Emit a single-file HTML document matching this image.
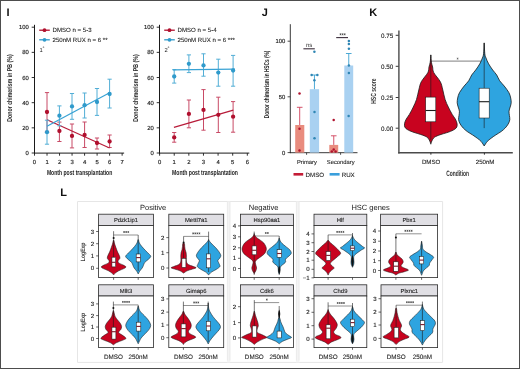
<!DOCTYPE html>
<html><head><meta charset="utf-8"><style>
html,body{margin:0;padding:0;background:#fff;}
body{width:520px;height:369px;overflow:hidden;font-family:"Liberation Sans",sans-serif;}
svg{display:block;will-change:transform;text-rendering:geometricPrecision;}
</style></head><body>
<svg width="520" height="369" viewBox="0 0 520 369" font-family="Liberation Sans, sans-serif"><text x="6.60" y="15.80" font-size="11" text-anchor="start" fill="#111" font-weight="bold" >I</text>
<text x="261.80" y="15.80" font-size="11" text-anchor="start" fill="#111" font-weight="bold" >J</text>
<text x="369.20" y="15.90" font-size="11" text-anchor="start" fill="#111" font-weight="bold" >K</text>
<text x="60.20" y="195.80" font-size="11" text-anchor="start" fill="#111" font-weight="bold" >L</text>
<line x1="34.50" y1="24.80" x2="34.50" y2="153.60" stroke="#1a1a1a" stroke-width="1.0" />
<line x1="34.00" y1="153.10" x2="124.14" y2="153.10" stroke="#1a1a1a" stroke-width="1.0" />
<line x1="31.70" y1="153.00" x2="34.50" y2="153.00" stroke="#1a1a1a" stroke-width="0.9" />
<text x="28.90" y="155.10" font-size="5.9" text-anchor="end" fill="#222"  stroke="#222" stroke-width="0.15">0</text>
<line x1="31.70" y1="127.84" x2="34.50" y2="127.84" stroke="#1a1a1a" stroke-width="0.9" />
<text x="28.90" y="129.94" font-size="5.9" text-anchor="end" fill="#222"  stroke="#222" stroke-width="0.15">20</text>
<line x1="31.70" y1="102.68" x2="34.50" y2="102.68" stroke="#1a1a1a" stroke-width="0.9" />
<text x="28.90" y="104.78" font-size="5.9" text-anchor="end" fill="#222"  stroke="#222" stroke-width="0.15">40</text>
<line x1="31.70" y1="77.52" x2="34.50" y2="77.52" stroke="#1a1a1a" stroke-width="0.9" />
<text x="28.90" y="79.62" font-size="5.9" text-anchor="end" fill="#222"  stroke="#222" stroke-width="0.15">60</text>
<line x1="31.70" y1="52.36" x2="34.50" y2="52.36" stroke="#1a1a1a" stroke-width="0.9" />
<text x="28.90" y="54.46" font-size="5.9" text-anchor="end" fill="#222"  stroke="#222" stroke-width="0.15">80</text>
<line x1="31.70" y1="27.20" x2="34.50" y2="27.20" stroke="#1a1a1a" stroke-width="0.9" />
<text x="28.90" y="29.30" font-size="5.9" text-anchor="end" fill="#222"  stroke="#222" stroke-width="0.15">100</text>
<line x1="34.50" y1="153.10" x2="34.50" y2="155.70" stroke="#1a1a1a" stroke-width="0.9" />
<text x="34.50" y="164.10" font-size="5.9" text-anchor="middle" fill="#222"  stroke="#222" stroke-width="0.15">0</text>
<line x1="47.02" y1="153.10" x2="47.02" y2="155.70" stroke="#1a1a1a" stroke-width="0.9" />
<text x="47.02" y="164.10" font-size="5.9" text-anchor="middle" fill="#222"  stroke="#222" stroke-width="0.15">1</text>
<line x1="59.54" y1="153.10" x2="59.54" y2="155.70" stroke="#1a1a1a" stroke-width="0.9" />
<text x="59.54" y="164.10" font-size="5.9" text-anchor="middle" fill="#222"  stroke="#222" stroke-width="0.15">2</text>
<line x1="72.06" y1="153.10" x2="72.06" y2="155.70" stroke="#1a1a1a" stroke-width="0.9" />
<text x="72.06" y="164.10" font-size="5.9" text-anchor="middle" fill="#222"  stroke="#222" stroke-width="0.15">3</text>
<line x1="84.58" y1="153.10" x2="84.58" y2="155.70" stroke="#1a1a1a" stroke-width="0.9" />
<text x="84.58" y="164.10" font-size="5.9" text-anchor="middle" fill="#222"  stroke="#222" stroke-width="0.15">4</text>
<line x1="97.10" y1="153.10" x2="97.10" y2="155.70" stroke="#1a1a1a" stroke-width="0.9" />
<text x="97.10" y="164.10" font-size="5.9" text-anchor="middle" fill="#222"  stroke="#222" stroke-width="0.15">5</text>
<line x1="109.62" y1="153.10" x2="109.62" y2="155.70" stroke="#1a1a1a" stroke-width="0.9" />
<text x="109.62" y="164.10" font-size="5.9" text-anchor="middle" fill="#222"  stroke="#222" stroke-width="0.15">6</text>
<line x1="122.14" y1="153.10" x2="122.14" y2="155.70" stroke="#1a1a1a" stroke-width="0.9" />
<text x="122.14" y="164.10" font-size="5.9" text-anchor="middle" fill="#222"  stroke="#222" stroke-width="0.15">7</text>
<text x="12.00" y="88.00" font-size="7.0" text-anchor="middle" fill="#222" font-weight="bold" textLength="67.4" lengthAdjust="spacingAndGlyphs" transform="rotate(-90 12.00 88.00)" >Donor chimerism in PB (%)</text>
<text x="79.60" y="175.10" font-size="7.4" text-anchor="middle" fill="#222" font-weight="bold" textLength="65.4" lengthAdjust="spacingAndGlyphs" >Month post transplantation</text>
<line x1="39.20" y1="30.20" x2="49.80" y2="30.20" stroke="#b0102e" stroke-width="1.3" />
<circle cx="44.50" cy="30.20" r="1.9" fill="#b0102e"/>
<text x="52.50" y="32.40" font-size="6.1" text-anchor="start" fill="#222"  stroke="#222" stroke-width="0.08">DMSO n = 5-3</text>
<line x1="39.20" y1="39.80" x2="49.80" y2="39.80" stroke="#2f9acb" stroke-width="1.3" />
<circle cx="44.50" cy="39.80" r="1.9" fill="#2f9acb"/>
<text x="52.50" y="42.00" font-size="6.1" text-anchor="start" fill="#222"  stroke="#222" stroke-width="0.08">250nM RUX n = 6 **</text>
<text x="39.60" y="51.60" font-size="5.8" text-anchor="start" fill="#222" >1</text>
<text x="42.60" y="49.60" font-size="5.0" text-anchor="start" fill="#333" >°</text>
<line x1="47.00" y1="92.60" x2="47.00" y2="131.40" stroke="#c84a66" stroke-width="1.0" />
<line x1="44.90" y1="92.60" x2="49.10" y2="92.60" stroke="#c84a66" stroke-width="1.0" />
<line x1="44.90" y1="131.40" x2="49.10" y2="131.40" stroke="#c84a66" stroke-width="1.0" />
<line x1="59.40" y1="122.10" x2="59.40" y2="141.50" stroke="#c84a66" stroke-width="1.0" />
<line x1="57.30" y1="122.10" x2="61.50" y2="122.10" stroke="#c84a66" stroke-width="1.0" />
<line x1="57.30" y1="141.50" x2="61.50" y2="141.50" stroke="#c84a66" stroke-width="1.0" />
<line x1="72.00" y1="124.00" x2="72.00" y2="147.90" stroke="#c84a66" stroke-width="1.0" />
<line x1="69.90" y1="124.00" x2="74.10" y2="124.00" stroke="#c84a66" stroke-width="1.0" />
<line x1="69.90" y1="147.90" x2="74.10" y2="147.90" stroke="#c84a66" stroke-width="1.0" />
<line x1="84.60" y1="122.00" x2="84.60" y2="147.50" stroke="#c84a66" stroke-width="1.0" />
<line x1="82.50" y1="122.00" x2="86.70" y2="122.00" stroke="#c84a66" stroke-width="1.0" />
<line x1="82.50" y1="147.50" x2="86.70" y2="147.50" stroke="#c84a66" stroke-width="1.0" />
<line x1="97.00" y1="138.00" x2="97.00" y2="149.00" stroke="#c84a66" stroke-width="1.0" />
<line x1="94.90" y1="138.00" x2="99.10" y2="138.00" stroke="#c84a66" stroke-width="1.0" />
<line x1="94.90" y1="149.00" x2="99.10" y2="149.00" stroke="#c84a66" stroke-width="1.0" />
<line x1="109.60" y1="135.00" x2="109.60" y2="147.50" stroke="#c84a66" stroke-width="1.0" />
<line x1="107.50" y1="135.00" x2="111.70" y2="135.00" stroke="#c84a66" stroke-width="1.0" />
<line x1="107.50" y1="147.50" x2="111.70" y2="147.50" stroke="#c84a66" stroke-width="1.0" />
<line x1="47.00" y1="119.70" x2="109.60" y2="148.00" stroke="#b81c3a" stroke-width="1.25" />
<circle cx="47.00" cy="112.00" r="2.15" fill="#b0102e"/>
<circle cx="59.40" cy="131.00" r="2.15" fill="#b0102e"/>
<circle cx="72.00" cy="135.90" r="2.15" fill="#b0102e"/>
<circle cx="84.60" cy="135.00" r="2.15" fill="#b0102e"/>
<circle cx="97.00" cy="143.00" r="2.15" fill="#b0102e"/>
<circle cx="109.60" cy="141.50" r="2.15" fill="#b0102e"/>
<line x1="47.00" y1="120.20" x2="47.00" y2="144.20" stroke="#52aed6" stroke-width="1.0" />
<line x1="44.90" y1="120.20" x2="49.10" y2="120.20" stroke="#52aed6" stroke-width="1.0" />
<line x1="44.90" y1="144.20" x2="49.10" y2="144.20" stroke="#52aed6" stroke-width="1.0" />
<line x1="59.40" y1="105.90" x2="59.40" y2="125.80" stroke="#52aed6" stroke-width="1.0" />
<line x1="57.30" y1="105.90" x2="61.50" y2="105.90" stroke="#52aed6" stroke-width="1.0" />
<line x1="57.30" y1="125.80" x2="61.50" y2="125.80" stroke="#52aed6" stroke-width="1.0" />
<line x1="72.00" y1="93.50" x2="72.00" y2="119.30" stroke="#52aed6" stroke-width="1.0" />
<line x1="69.90" y1="93.50" x2="74.10" y2="93.50" stroke="#52aed6" stroke-width="1.0" />
<line x1="69.90" y1="119.30" x2="74.10" y2="119.30" stroke="#52aed6" stroke-width="1.0" />
<line x1="84.60" y1="93.00" x2="84.60" y2="118.00" stroke="#52aed6" stroke-width="1.0" />
<line x1="82.50" y1="93.00" x2="86.70" y2="93.00" stroke="#52aed6" stroke-width="1.0" />
<line x1="82.50" y1="118.00" x2="86.70" y2="118.00" stroke="#52aed6" stroke-width="1.0" />
<line x1="97.00" y1="88.50" x2="97.00" y2="115.40" stroke="#52aed6" stroke-width="1.0" />
<line x1="94.90" y1="88.50" x2="99.10" y2="88.50" stroke="#52aed6" stroke-width="1.0" />
<line x1="94.90" y1="115.40" x2="99.10" y2="115.40" stroke="#52aed6" stroke-width="1.0" />
<line x1="109.60" y1="79.20" x2="109.60" y2="108.00" stroke="#52aed6" stroke-width="1.0" />
<line x1="107.50" y1="79.20" x2="111.70" y2="79.20" stroke="#52aed6" stroke-width="1.0" />
<line x1="107.50" y1="108.00" x2="111.70" y2="108.00" stroke="#52aed6" stroke-width="1.0" />
<line x1="47.00" y1="126.20" x2="109.60" y2="92.80" stroke="#38a2d4" stroke-width="1.25" />
<circle cx="47.00" cy="132.20" r="2.15" fill="#2f9acb"/>
<circle cx="59.40" cy="115.70" r="2.15" fill="#2f9acb"/>
<circle cx="72.00" cy="106.40" r="2.15" fill="#2f9acb"/>
<circle cx="84.60" cy="105.20" r="2.15" fill="#2f9acb"/>
<circle cx="97.00" cy="102.00" r="2.15" fill="#2f9acb"/>
<circle cx="109.60" cy="94.00" r="2.15" fill="#2f9acb"/>
<line x1="159.50" y1="24.80" x2="159.50" y2="153.60" stroke="#1a1a1a" stroke-width="1.0" />
<line x1="159.00" y1="153.10" x2="249.32" y2="153.10" stroke="#1a1a1a" stroke-width="1.0" />
<line x1="156.70" y1="153.00" x2="159.50" y2="153.00" stroke="#1a1a1a" stroke-width="0.9" />
<text x="153.90" y="155.10" font-size="5.9" text-anchor="end" fill="#222"  stroke="#222" stroke-width="0.15">0</text>
<line x1="156.70" y1="127.84" x2="159.50" y2="127.84" stroke="#1a1a1a" stroke-width="0.9" />
<text x="153.90" y="129.94" font-size="5.9" text-anchor="end" fill="#222"  stroke="#222" stroke-width="0.15">20</text>
<line x1="156.70" y1="102.68" x2="159.50" y2="102.68" stroke="#1a1a1a" stroke-width="0.9" />
<text x="153.90" y="104.78" font-size="5.9" text-anchor="end" fill="#222"  stroke="#222" stroke-width="0.15">40</text>
<line x1="156.70" y1="77.52" x2="159.50" y2="77.52" stroke="#1a1a1a" stroke-width="0.9" />
<text x="153.90" y="79.62" font-size="5.9" text-anchor="end" fill="#222"  stroke="#222" stroke-width="0.15">60</text>
<line x1="156.70" y1="52.36" x2="159.50" y2="52.36" stroke="#1a1a1a" stroke-width="0.9" />
<text x="153.90" y="54.46" font-size="5.9" text-anchor="end" fill="#222"  stroke="#222" stroke-width="0.15">80</text>
<line x1="156.70" y1="27.20" x2="159.50" y2="27.20" stroke="#1a1a1a" stroke-width="0.9" />
<text x="153.90" y="29.30" font-size="5.9" text-anchor="end" fill="#222"  stroke="#222" stroke-width="0.15">100</text>
<line x1="159.60" y1="153.10" x2="159.60" y2="155.70" stroke="#1a1a1a" stroke-width="0.9" />
<text x="159.60" y="164.10" font-size="5.9" text-anchor="middle" fill="#222"  stroke="#222" stroke-width="0.15">0</text>
<line x1="174.22" y1="153.10" x2="174.22" y2="155.70" stroke="#1a1a1a" stroke-width="0.9" />
<text x="174.22" y="164.10" font-size="5.9" text-anchor="middle" fill="#222"  stroke="#222" stroke-width="0.15">1</text>
<line x1="188.84" y1="153.10" x2="188.84" y2="155.70" stroke="#1a1a1a" stroke-width="0.9" />
<text x="188.84" y="164.10" font-size="5.9" text-anchor="middle" fill="#222"  stroke="#222" stroke-width="0.15">2</text>
<line x1="203.46" y1="153.10" x2="203.46" y2="155.70" stroke="#1a1a1a" stroke-width="0.9" />
<text x="203.46" y="164.10" font-size="5.9" text-anchor="middle" fill="#222"  stroke="#222" stroke-width="0.15">3</text>
<line x1="218.08" y1="153.10" x2="218.08" y2="155.70" stroke="#1a1a1a" stroke-width="0.9" />
<text x="218.08" y="164.10" font-size="5.9" text-anchor="middle" fill="#222"  stroke="#222" stroke-width="0.15">4</text>
<line x1="232.70" y1="153.10" x2="232.70" y2="155.70" stroke="#1a1a1a" stroke-width="0.9" />
<text x="232.70" y="164.10" font-size="5.9" text-anchor="middle" fill="#222"  stroke="#222" stroke-width="0.15">5</text>
<line x1="247.32" y1="153.10" x2="247.32" y2="155.70" stroke="#1a1a1a" stroke-width="0.9" />
<text x="247.32" y="164.10" font-size="5.9" text-anchor="middle" fill="#222"  stroke="#222" stroke-width="0.15">6</text>
<text x="138.00" y="88.00" font-size="7.0" text-anchor="middle" fill="#222" font-weight="bold" textLength="67.4" lengthAdjust="spacingAndGlyphs" transform="rotate(-90 138.00 88.00)" >Donor chimerism in PB (%)</text>
<text x="205.00" y="175.10" font-size="7.4" text-anchor="middle" fill="#222" font-weight="bold" textLength="66" lengthAdjust="spacingAndGlyphs" >Month post transplantation</text>
<line x1="164.20" y1="30.20" x2="174.80" y2="30.20" stroke="#b0102e" stroke-width="1.3" />
<circle cx="169.50" cy="30.20" r="1.9" fill="#b0102e"/>
<text x="177.50" y="32.40" font-size="6.1" text-anchor="start" fill="#222"  stroke="#222" stroke-width="0.08">DMSO n = 5-4</text>
<line x1="164.20" y1="39.80" x2="174.80" y2="39.80" stroke="#2f9acb" stroke-width="1.3" />
<circle cx="169.50" cy="39.80" r="1.9" fill="#2f9acb"/>
<text x="177.50" y="42.00" font-size="6.1" text-anchor="start" fill="#222"  stroke="#222" stroke-width="0.08">250nM RUX n = 6 ***</text>
<text x="164.60" y="51.60" font-size="5.8" text-anchor="start" fill="#222" >2</text>
<text x="167.60" y="49.60" font-size="5.0" text-anchor="start" fill="#333" >°</text>
<line x1="174.20" y1="132.50" x2="174.20" y2="142.20" stroke="#c84a66" stroke-width="1.0" />
<line x1="172.10" y1="132.50" x2="176.30" y2="132.50" stroke="#c84a66" stroke-width="1.0" />
<line x1="172.10" y1="142.20" x2="176.30" y2="142.20" stroke="#c84a66" stroke-width="1.0" />
<line x1="188.90" y1="100.00" x2="188.90" y2="127.80" stroke="#c84a66" stroke-width="1.0" />
<line x1="186.80" y1="100.00" x2="191.00" y2="100.00" stroke="#c84a66" stroke-width="1.0" />
<line x1="186.80" y1="127.80" x2="191.00" y2="127.80" stroke="#c84a66" stroke-width="1.0" />
<line x1="203.50" y1="89.60" x2="203.50" y2="130.20" stroke="#c84a66" stroke-width="1.0" />
<line x1="201.40" y1="89.60" x2="205.60" y2="89.60" stroke="#c84a66" stroke-width="1.0" />
<line x1="201.40" y1="130.20" x2="205.60" y2="130.20" stroke="#c84a66" stroke-width="1.0" />
<line x1="218.30" y1="97.20" x2="218.30" y2="132.50" stroke="#c84a66" stroke-width="1.0" />
<line x1="216.20" y1="97.20" x2="220.40" y2="97.20" stroke="#c84a66" stroke-width="1.0" />
<line x1="216.20" y1="132.50" x2="220.40" y2="132.50" stroke="#c84a66" stroke-width="1.0" />
<line x1="233.10" y1="101.60" x2="233.10" y2="132.20" stroke="#c84a66" stroke-width="1.0" />
<line x1="231.00" y1="101.60" x2="235.20" y2="101.60" stroke="#c84a66" stroke-width="1.0" />
<line x1="231.00" y1="132.20" x2="235.20" y2="132.20" stroke="#c84a66" stroke-width="1.0" />
<line x1="173.90" y1="127.30" x2="233.30" y2="110.20" stroke="#b81c3a" stroke-width="1.25" />
<circle cx="174.20" cy="137.40" r="2.15" fill="#b0102e"/>
<circle cx="188.90" cy="113.90" r="2.15" fill="#b0102e"/>
<circle cx="203.50" cy="109.90" r="2.15" fill="#b0102e"/>
<circle cx="218.30" cy="114.80" r="2.15" fill="#b0102e"/>
<circle cx="233.10" cy="116.70" r="2.15" fill="#b0102e"/>
<line x1="174.20" y1="69.70" x2="174.20" y2="83.10" stroke="#52aed6" stroke-width="1.0" />
<line x1="172.10" y1="69.70" x2="176.30" y2="69.70" stroke="#52aed6" stroke-width="1.0" />
<line x1="172.10" y1="83.10" x2="176.30" y2="83.10" stroke="#52aed6" stroke-width="1.0" />
<line x1="188.90" y1="54.90" x2="188.90" y2="72.60" stroke="#52aed6" stroke-width="1.0" />
<line x1="186.80" y1="54.90" x2="191.00" y2="54.90" stroke="#52aed6" stroke-width="1.0" />
<line x1="186.80" y1="72.60" x2="191.00" y2="72.60" stroke="#52aed6" stroke-width="1.0" />
<line x1="203.50" y1="53.80" x2="203.50" y2="76.20" stroke="#52aed6" stroke-width="1.0" />
<line x1="201.40" y1="53.80" x2="205.60" y2="53.80" stroke="#52aed6" stroke-width="1.0" />
<line x1="201.40" y1="76.20" x2="205.60" y2="76.20" stroke="#52aed6" stroke-width="1.0" />
<line x1="218.30" y1="59.20" x2="218.30" y2="86.20" stroke="#52aed6" stroke-width="1.0" />
<line x1="216.20" y1="59.20" x2="220.40" y2="59.20" stroke="#52aed6" stroke-width="1.0" />
<line x1="216.20" y1="86.20" x2="220.40" y2="86.20" stroke="#52aed6" stroke-width="1.0" />
<line x1="233.10" y1="55.40" x2="233.10" y2="86.20" stroke="#52aed6" stroke-width="1.0" />
<line x1="231.00" y1="55.40" x2="235.20" y2="55.40" stroke="#52aed6" stroke-width="1.0" />
<line x1="231.00" y1="86.20" x2="235.20" y2="86.20" stroke="#52aed6" stroke-width="1.0" />
<line x1="173.00" y1="69.80" x2="235.00" y2="69.20" stroke="#38a2d4" stroke-width="1.25" />
<circle cx="174.20" cy="76.50" r="2.15" fill="#2f9acb"/>
<circle cx="188.90" cy="63.80" r="2.15" fill="#2f9acb"/>
<circle cx="203.50" cy="65.40" r="2.15" fill="#2f9acb"/>
<circle cx="218.30" cy="72.60" r="2.15" fill="#2f9acb"/>
<circle cx="233.10" cy="70.50" r="2.15" fill="#2f9acb"/>
<line x1="290.30" y1="24.20" x2="290.30" y2="153.10" stroke="#222" stroke-width="0.9" />
<line x1="289.90" y1="152.70" x2="357.50" y2="152.70" stroke="#222" stroke-width="0.9" />
<line x1="287.60" y1="152.60" x2="290.30" y2="152.60" stroke="#222" stroke-width="0.8" />
<text x="285.40" y="154.70" font-size="5.9" text-anchor="end" fill="#222"  stroke="#222" stroke-width="0.15">0</text>
<line x1="287.60" y1="96.80" x2="290.30" y2="96.80" stroke="#222" stroke-width="0.8" />
<text x="285.40" y="98.90" font-size="5.9" text-anchor="end" fill="#222"  stroke="#222" stroke-width="0.15">50</text>
<line x1="287.60" y1="41.20" x2="290.30" y2="41.20" stroke="#222" stroke-width="0.8" />
<text x="285.40" y="43.30" font-size="5.9" text-anchor="end" fill="#222"  stroke="#222" stroke-width="0.15">100</text>
<line x1="306.60" y1="152.70" x2="306.60" y2="154.80" stroke="#222" stroke-width="0.8" />
<line x1="340.60" y1="152.70" x2="340.60" y2="154.80" stroke="#222" stroke-width="0.8" />
<text x="268.80" y="84.40" font-size="7.0" text-anchor="middle" fill="#222" font-weight="bold" textLength="67.5" lengthAdjust="spacingAndGlyphs" transform="rotate(-90 268.80 84.40)" >Donor chimerism in HSCs (%)</text>
<rect x="295.20" y="125.00" width="9.10" height="27.60" fill="#e98c7e" stroke="none" stroke-width="1" />
<rect x="309.80" y="89.20" width="9.30" height="63.40" fill="#a9d1f1" stroke="none" stroke-width="1" />
<rect x="329.30" y="144.90" width="8.90" height="7.70" fill="#e98c7e" stroke="none" stroke-width="1" />
<rect x="344.30" y="65.50" width="8.90" height="87.10" fill="#a9d1f1" stroke="none" stroke-width="1" />
<line x1="299.70" y1="107.30" x2="299.70" y2="125.00" stroke="#d0405a" stroke-width="0.9" />
<line x1="296.90" y1="107.30" x2="302.50" y2="107.30" stroke="#d0405a" stroke-width="0.9" />
<line x1="314.45" y1="75.00" x2="314.45" y2="89.20" stroke="#3aa0d0" stroke-width="0.9" />
<line x1="311.65" y1="75.00" x2="317.25" y2="75.00" stroke="#3aa0d0" stroke-width="0.9" />
<line x1="333.75" y1="135.80" x2="333.75" y2="144.90" stroke="#d0405a" stroke-width="0.9" />
<line x1="330.95" y1="135.80" x2="336.55" y2="135.80" stroke="#d0405a" stroke-width="0.9" />
<line x1="348.75" y1="53.50" x2="348.75" y2="65.50" stroke="#3aa0d0" stroke-width="0.9" />
<line x1="345.95" y1="53.50" x2="351.55" y2="53.50" stroke="#3aa0d0" stroke-width="0.9" />
<circle cx="299.50" cy="93.50" r="1.25" fill="#b0122e"/>
<circle cx="299.50" cy="128.70" r="1.25" fill="#b0122e"/>
<circle cx="299.50" cy="150.60" r="1.25" fill="#b0122e"/>
<circle cx="333.70" cy="120.10" r="1.25" fill="#b0122e"/>
<circle cx="333.70" cy="149.60" r="1.25" fill="#b0122e"/>
<circle cx="331.80" cy="151.60" r="1.25" fill="#b0122e"/>
<circle cx="335.60" cy="151.60" r="1.25" fill="#b0122e"/>
<circle cx="314.40" cy="51.80" r="1.25" fill="#2f86b4"/>
<circle cx="311.60" cy="75.00" r="1.25" fill="#2f86b4"/>
<circle cx="317.40" cy="75.00" r="1.25" fill="#2f86b4"/>
<circle cx="314.40" cy="80.30" r="1.25" fill="#2f86b4"/>
<circle cx="314.50" cy="112.00" r="1.25" fill="#2f86b4"/>
<circle cx="314.50" cy="138.20" r="1.25" fill="#2f86b4"/>
<circle cx="348.90" cy="40.90" r="1.25" fill="#2f86b4"/>
<circle cx="348.90" cy="43.90" r="1.25" fill="#2f86b4"/>
<circle cx="348.90" cy="48.80" r="1.25" fill="#2f86b4"/>
<circle cx="348.90" cy="65.50" r="1.25" fill="#2f86b4"/>
<circle cx="348.90" cy="73.00" r="1.25" fill="#2f86b4"/>
<circle cx="348.60" cy="115.90" r="1.25" fill="#2f86b4"/>
<line x1="303.40" y1="48.80" x2="314.80" y2="48.80" stroke="#3a2d3a" stroke-width="1.1" />
<text x="309.10" y="46.60" font-size="6.0" text-anchor="middle" fill="#333" >ns</text>
<line x1="336.20" y1="37.60" x2="348.00" y2="37.60" stroke="#3a2d3a" stroke-width="1.1" />
<line x1="340.50" y1="33.35" x2="340.50" y2="35.25" stroke="#333" stroke-width="0.55" />
<line x1="339.68" y1="33.82" x2="341.32" y2="34.77" stroke="#333" stroke-width="0.55" />
<line x1="341.32" y1="33.82" x2="339.68" y2="34.77" stroke="#333" stroke-width="0.55" />
<line x1="342.60" y1="33.35" x2="342.60" y2="35.25" stroke="#333" stroke-width="0.55" />
<line x1="341.78" y1="33.82" x2="343.42" y2="34.77" stroke="#333" stroke-width="0.55" />
<line x1="343.42" y1="33.82" x2="341.78" y2="34.77" stroke="#333" stroke-width="0.55" />
<line x1="344.70" y1="33.35" x2="344.70" y2="35.25" stroke="#333" stroke-width="0.55" />
<line x1="343.88" y1="33.82" x2="345.52" y2="34.77" stroke="#333" stroke-width="0.55" />
<line x1="345.52" y1="33.82" x2="343.88" y2="34.77" stroke="#333" stroke-width="0.55" />
<text x="306.90" y="163.90" font-size="5.8" text-anchor="middle" fill="#222"  stroke="#222" stroke-width="0.1">Primary</text>
<text x="340.70" y="163.90" font-size="5.8" text-anchor="middle" fill="#222"  stroke="#222" stroke-width="0.1">Secondary</text>
<rect x="293.50" y="173.00" width="9.70" height="2.60" fill="#c41c36" stroke="none" stroke-width="1" />
<text x="305.60" y="176.60" font-size="6.2" text-anchor="start" fill="#222"  stroke="#222" stroke-width="0.1">DMSO</text>
<rect x="329.60" y="173.00" width="10.00" height="2.60" fill="#3a9fdc" stroke="none" stroke-width="1" />
<text x="341.70" y="176.60" font-size="6.2" text-anchor="start" fill="#222"  stroke="#222" stroke-width="0.1">RUX</text>
<line x1="398.90" y1="30.60" x2="398.90" y2="153.50" stroke="#4a4a4a" stroke-width="1.4" />
<line x1="398.20" y1="152.80" x2="512.80" y2="152.80" stroke="#4a4a4a" stroke-width="1.4" />
<line x1="395.70" y1="35.30" x2="398.50" y2="35.30" stroke="#222" stroke-width="0.9" />
<text x="393.30" y="37.60" font-size="6.3" text-anchor="end" fill="#222"  stroke="#222" stroke-width="0.12">0.75</text>
<line x1="395.70" y1="66.30" x2="398.50" y2="66.30" stroke="#222" stroke-width="0.9" />
<text x="393.30" y="68.60" font-size="6.3" text-anchor="end" fill="#222"  stroke="#222" stroke-width="0.12">0.50</text>
<line x1="395.70" y1="97.50" x2="398.50" y2="97.50" stroke="#222" stroke-width="0.9" />
<text x="393.30" y="99.80" font-size="6.3" text-anchor="end" fill="#222"  stroke="#222" stroke-width="0.12">0.25</text>
<line x1="395.70" y1="128.20" x2="398.50" y2="128.20" stroke="#222" stroke-width="0.9" />
<text x="393.30" y="130.50" font-size="6.3" text-anchor="end" fill="#222"  stroke="#222" stroke-width="0.12">0.00</text>
<line x1="430.90" y1="152.80" x2="430.90" y2="154.70" stroke="#222" stroke-width="0.9" />
<line x1="484.40" y1="152.80" x2="484.40" y2="154.70" stroke="#222" stroke-width="0.9" />
<text x="431.10" y="163.90" font-size="6.1" text-anchor="middle" fill="#222"  stroke="#222" stroke-width="0.1">DMSO</text>
<text x="485.10" y="163.90" font-size="6.1" text-anchor="middle" fill="#222"  stroke="#222" stroke-width="0.1">250nM</text>
<text x="457.60" y="175.60" font-size="7.9" text-anchor="middle" fill="#333" font-weight="bold" textLength="22.8" lengthAdjust="spacingAndGlyphs" >Condition</text>
<text x="376.10" y="91.10" font-size="7.4" text-anchor="middle" fill="#333" font-weight="bold" textLength="25.4" lengthAdjust="spacingAndGlyphs" transform="rotate(-90 376.10 91.10)" >HSC score</text>
<line x1="430.80" y1="61.10" x2="483.50" y2="61.10" stroke="#707070" stroke-width="0.9" />
<line x1="457.60" y1="57.65" x2="457.60" y2="59.55" stroke="#555" stroke-width="0.55" />
<line x1="456.78" y1="58.12" x2="458.42" y2="59.08" stroke="#555" stroke-width="0.55" />
<line x1="458.42" y1="58.12" x2="456.78" y2="59.08" stroke="#555" stroke-width="0.55" />
<path d="M430.80,54.90 C430.90,56.13 431.10,60.28 431.40,62.30 C431.70,64.32 432.20,65.27 432.60,67.00 C433.00,68.73 432.52,70.25 433.80,72.70 C435.08,75.15 438.80,78.82 440.30,81.70 C441.80,84.58 442.00,87.03 442.80,90.00 C443.60,92.97 444.18,96.67 445.10,99.50 C446.02,102.33 447.12,104.52 448.30,107.00 C449.48,109.48 451.03,112.40 452.20,114.40 C453.37,116.40 454.50,117.52 455.30,119.00 C456.10,120.48 456.75,121.97 457.00,123.30 C457.25,124.63 457.25,125.97 456.80,127.00 C456.35,128.03 455.63,128.67 454.30,129.50 C452.97,130.33 451.38,131.05 448.80,132.00 C446.22,132.95 441.30,134.23 438.80,135.20 C436.30,136.17 435.03,136.67 433.80,137.80 C432.57,138.93 431.90,140.93 431.40,142.00 C430.90,143.07 430.90,143.83 430.80,144.20 L430.80,144.20 C430.70,143.83 430.70,143.07 430.20,142.00 C429.70,140.93 429.03,138.93 427.80,137.80 C426.57,136.67 425.30,136.17 422.80,135.20 C420.30,134.23 415.38,132.95 412.80,132.00 C410.22,131.05 408.63,130.33 407.30,129.50 C405.97,128.67 405.25,128.03 404.80,127.00 C404.35,125.97 404.35,124.63 404.60,123.30 C404.85,121.97 405.50,120.48 406.30,119.00 C407.10,117.52 408.23,116.40 409.40,114.40 C410.57,112.40 412.12,109.48 413.30,107.00 C414.48,104.52 415.58,102.33 416.50,99.50 C417.42,96.67 418.00,92.97 418.80,90.00 C419.60,87.03 419.80,84.58 421.30,81.70 C422.80,78.82 426.52,75.15 427.80,72.70 C429.08,70.25 428.60,68.73 429.00,67.00 C429.40,65.27 429.90,64.32 430.20,62.30 C430.50,60.28 430.70,56.13 430.80,54.90Z" fill="#c8031f" stroke="#1a1a1a" stroke-width="0.8" stroke-linejoin="round"/>
<line x1="430.80" y1="54.90" x2="430.80" y2="97.10" stroke="#1a1a1a" stroke-width="0.6" />
<line x1="430.80" y1="121.80" x2="430.80" y2="140.00" stroke="#1a1a1a" stroke-width="0.6" />
<rect x="425.70" y="97.10" width="10.10" height="24.70" fill="#fff" stroke="#1a1a1a" stroke-width="0.55" />
<line x1="425.70" y1="110.50" x2="435.80" y2="110.50" stroke="#1a1a1a" stroke-width="1.1" />
<path d="M484.20,42.90 C484.30,44.70 484.50,51.18 484.80,53.70 C485.10,56.22 485.37,56.32 486.00,58.00 C486.63,59.68 487.48,61.80 488.60,63.80 C489.72,65.80 491.35,68.13 492.70,70.00 C494.05,71.87 495.53,73.20 496.70,75.00 C497.87,76.80 498.45,78.97 499.70,80.80 C500.95,82.63 502.67,84.03 504.20,86.00 C505.73,87.97 507.82,90.60 508.90,92.60 C509.98,94.60 510.32,96.30 510.70,98.00 C511.08,99.70 511.28,101.30 511.20,102.80 C511.12,104.30 510.57,105.60 510.20,107.00 C509.83,108.40 509.13,109.78 509.00,111.20 C508.87,112.62 509.27,114.08 509.40,115.50 C509.53,116.92 510.00,118.28 509.80,119.70 C509.60,121.12 508.97,122.62 508.20,124.00 C507.43,125.38 506.37,126.75 505.20,128.00 C504.03,129.25 502.78,130.33 501.20,131.50 C499.62,132.67 497.40,133.87 495.70,135.00 C494.00,136.13 492.42,137.22 491.00,138.30 C489.58,139.38 488.33,140.22 487.20,141.50 C486.07,142.78 484.70,145.25 484.20,146.00 L484.20,146.00 C483.70,145.25 482.33,142.78 481.20,141.50 C480.07,140.22 478.82,139.38 477.40,138.30 C475.98,137.22 474.40,136.13 472.70,135.00 C471.00,133.87 468.78,132.67 467.20,131.50 C465.62,130.33 464.37,129.25 463.20,128.00 C462.03,126.75 460.97,125.38 460.20,124.00 C459.43,122.62 458.80,121.12 458.60,119.70 C458.40,118.28 458.87,116.92 459.00,115.50 C459.13,114.08 459.53,112.62 459.40,111.20 C459.27,109.78 458.57,108.40 458.20,107.00 C457.83,105.60 457.28,104.30 457.20,102.80 C457.12,101.30 457.32,99.70 457.70,98.00 C458.08,96.30 458.42,94.60 459.50,92.60 C460.58,90.60 462.67,87.97 464.20,86.00 C465.73,84.03 467.45,82.63 468.70,80.80 C469.95,78.97 470.53,76.80 471.70,75.00 C472.87,73.20 474.35,71.87 475.70,70.00 C477.05,68.13 478.68,65.80 479.80,63.80 C480.92,61.80 481.77,59.68 482.40,58.00 C483.03,56.32 483.30,56.22 483.60,53.70 C483.90,51.18 484.10,44.70 484.20,42.90Z" fill="#2ea4e0" stroke="#1a1a1a" stroke-width="0.8" stroke-linejoin="round"/>
<line x1="484.20" y1="42.90" x2="484.20" y2="88.20" stroke="#1a1a1a" stroke-width="0.6" />
<line x1="484.20" y1="118.00" x2="484.20" y2="128.10" stroke="#1a1a1a" stroke-width="0.6" />
<rect x="479.10" y="88.20" width="10.10" height="29.80" fill="#fff" stroke="#1a1a1a" stroke-width="0.55" />
<line x1="479.10" y1="101.70" x2="489.20" y2="101.70" stroke="#1a1a1a" stroke-width="1.1" />
<line x1="77.50" y1="201.50" x2="442.60" y2="201.50" stroke="#e6e6e6" stroke-width="1" />
<line x1="77.50" y1="362.40" x2="442.60" y2="362.40" stroke="#e6e6e6" stroke-width="1" />
<line x1="77.50" y1="201.50" x2="77.50" y2="362.40" stroke="#e6e6e6" stroke-width="1" />
<line x1="442.60" y1="201.50" x2="442.60" y2="362.40" stroke="#e6e6e6" stroke-width="1" />
<rect x="227.00" y="201.50" width="3.30" height="160.90" fill="#f4f4f4" stroke="none" stroke-width="1" />
<line x1="227.40" y1="201.50" x2="227.40" y2="360.50" stroke="#e8e8e8" stroke-width="0.8" />
<line x1="229.90" y1="201.50" x2="229.90" y2="360.50" stroke="#e8e8e8" stroke-width="0.8" />
<rect x="296.00" y="201.50" width="3.40" height="160.90" fill="#f4f4f4" stroke="none" stroke-width="1" />
<line x1="296.40" y1="201.50" x2="296.40" y2="360.50" stroke="#e8e8e8" stroke-width="0.8" />
<line x1="299.00" y1="201.50" x2="299.00" y2="360.50" stroke="#e8e8e8" stroke-width="0.8" />
<text x="153.10" y="209.80" font-size="7.5" text-anchor="middle" fill="#1a1a1a" >Positive</text>
<text x="263.60" y="209.80" font-size="7.5" text-anchor="middle" fill="#1a1a1a" >Negative</text>
<text x="370.60" y="209.80" font-size="7.5" text-anchor="middle" fill="#1a1a1a" >HSC genes</text>
<rect x="98.60" y="214.20" width="54.80" height="11.30" fill="#e0dfe4" stroke="#2a2a2a" stroke-width="0.8" />
<text x="126.00" y="222.05" font-size="5.9" text-anchor="middle" fill="#1a1a1a"  stroke="#1a1a1a" stroke-width="0.1">Pdzk1ip1</text>
<rect x="98.60" y="225.50" width="54.80" height="52.10" fill="#fff" stroke="#2a2a2a" stroke-width="0.8" />
<line x1="96.10" y1="231.50" x2="98.60" y2="231.50" stroke="#2a2a2a" stroke-width="0.7" />
<text x="94.20" y="233.60" font-size="6.1" text-anchor="end" fill="#222"  stroke="#222" stroke-width="0.12">3</text>
<line x1="96.10" y1="243.70" x2="98.60" y2="243.70" stroke="#2a2a2a" stroke-width="0.7" />
<text x="94.20" y="245.80" font-size="6.1" text-anchor="end" fill="#222"  stroke="#222" stroke-width="0.12">2</text>
<line x1="96.10" y1="255.90" x2="98.60" y2="255.90" stroke="#2a2a2a" stroke-width="0.7" />
<text x="94.20" y="258.00" font-size="6.1" text-anchor="end" fill="#222"  stroke="#222" stroke-width="0.12">1</text>
<line x1="96.10" y1="268.30" x2="98.60" y2="268.30" stroke="#2a2a2a" stroke-width="0.7" />
<text x="94.20" y="270.40" font-size="6.1" text-anchor="end" fill="#222"  stroke="#222" stroke-width="0.12">0</text>
<line x1="113.60" y1="277.60" x2="113.60" y2="279.80" stroke="#2a2a2a" stroke-width="0.7" />
<line x1="138.20" y1="277.60" x2="138.20" y2="279.80" stroke="#2a2a2a" stroke-width="0.7" />
<line x1="113.60" y1="235.00" x2="138.20" y2="235.00" stroke="#777" stroke-width="0.8" />
<line x1="124.10" y1="231.05" x2="124.10" y2="232.95" stroke="#333" stroke-width="0.55" />
<line x1="123.28" y1="231.53" x2="124.92" y2="232.47" stroke="#333" stroke-width="0.55" />
<line x1="124.92" y1="231.53" x2="123.28" y2="232.47" stroke="#333" stroke-width="0.55" />
<line x1="126.20" y1="231.05" x2="126.20" y2="232.95" stroke="#333" stroke-width="0.55" />
<line x1="125.38" y1="231.53" x2="127.02" y2="232.47" stroke="#333" stroke-width="0.55" />
<line x1="127.02" y1="231.53" x2="125.38" y2="232.47" stroke="#333" stroke-width="0.55" />
<line x1="128.30" y1="231.05" x2="128.30" y2="232.95" stroke="#333" stroke-width="0.55" />
<line x1="127.48" y1="231.53" x2="129.12" y2="232.47" stroke="#333" stroke-width="0.55" />
<line x1="129.12" y1="231.53" x2="127.48" y2="232.47" stroke="#333" stroke-width="0.55" />
<path d="M113.60,240.00 C113.68,240.22 113.92,240.62 114.10,241.30 C114.28,241.98 114.40,243.07 114.70,244.10 C115.00,245.13 115.42,246.17 115.90,247.50 C116.38,248.83 117.03,250.77 117.60,252.10 C118.17,253.43 118.92,254.47 119.30,255.50 C119.68,256.53 120.08,257.45 119.90,258.30 C119.72,259.15 118.40,259.83 118.20,260.60 C118.00,261.37 117.85,262.15 118.70,262.90 C119.55,263.65 122.10,264.43 123.30,265.10 C124.50,265.77 125.82,266.32 125.90,266.90 C125.98,267.48 125.00,267.95 123.80,268.60 C122.60,269.25 120.12,270.05 118.70,270.80 C117.28,271.55 116.15,272.43 115.30,273.10 C114.45,273.77 113.88,274.52 113.60,274.80 L113.60,274.80 C113.32,274.52 112.75,273.77 111.90,273.10 C111.05,272.43 109.92,271.55 108.50,270.80 C107.08,270.05 104.60,269.25 103.40,268.60 C102.20,267.95 101.22,267.48 101.30,266.90 C101.38,266.32 102.70,265.77 103.90,265.10 C105.10,264.43 107.65,263.65 108.50,262.90 C109.35,262.15 109.20,261.37 109.00,260.60 C108.80,259.83 107.48,259.15 107.30,258.30 C107.12,257.45 107.52,256.53 107.90,255.50 C108.28,254.47 109.03,253.43 109.60,252.10 C110.17,250.77 110.82,248.83 111.30,247.50 C111.78,246.17 112.20,245.13 112.50,244.10 C112.80,243.07 112.92,241.98 113.10,241.30 C113.28,240.62 113.52,240.22 113.60,240.00Z" fill="#c8031f" stroke="#1a1a1a" stroke-width="0.55" stroke-linejoin="round"/>
<line x1="113.60" y1="231.20" x2="113.60" y2="257.20" stroke="#1a1a1a" stroke-width="0.6" />
<rect x="111.90" y="257.20" width="3.80" height="9.70" fill="#fff" stroke="#1a1a1a" stroke-width="0.55" />
<line x1="111.90" y1="262.30" x2="115.70" y2="262.30" stroke="#7a1a2a" stroke-width="1.1" />
<circle cx="113.60" cy="238.10" r="1.0" fill="#111"/>
<path d="M138.20,239.50 C138.28,239.67 138.50,239.92 138.70,240.50 C138.90,241.08 138.87,241.98 139.40,243.00 C139.93,244.02 140.92,245.38 141.90,246.60 C142.88,247.82 144.13,249.07 145.30,250.30 C146.47,251.53 147.98,252.98 148.90,254.00 C149.82,255.02 150.90,255.50 150.80,256.40 C150.70,257.30 149.32,258.38 148.30,259.40 C147.28,260.42 145.52,261.48 144.70,262.50 C143.88,263.52 143.82,264.58 143.40,265.50 C142.98,266.42 142.80,267.08 142.20,268.00 C141.60,268.92 140.47,270.00 139.80,271.00 C139.13,272.00 138.47,273.50 138.20,274.00 L138.20,274.00 C137.93,273.50 137.27,272.00 136.60,271.00 C135.93,270.00 134.80,268.92 134.20,268.00 C133.60,267.08 133.42,266.42 133.00,265.50 C132.58,264.58 132.52,263.52 131.70,262.50 C130.88,261.48 129.12,260.42 128.10,259.40 C127.08,258.38 125.70,257.30 125.60,256.40 C125.50,255.50 126.58,255.02 127.50,254.00 C128.42,252.98 129.93,251.53 131.10,250.30 C132.27,249.07 133.52,247.82 134.50,246.60 C135.48,245.38 136.47,244.02 137.00,243.00 C137.53,241.98 137.50,241.08 137.70,240.50 C137.90,239.92 138.12,239.67 138.20,239.50Z" fill="#2ea4e0" stroke="#1a1a1a" stroke-width="0.55" stroke-linejoin="round"/>
<line x1="138.20" y1="235.00" x2="138.20" y2="254.00" stroke="#1a1a1a" stroke-width="0.6" />
<line x1="138.20" y1="261.90" x2="138.20" y2="271.00" stroke="#1a1a1a" stroke-width="0.6" />
<rect x="136.20" y="254.00" width="4.30" height="7.90" fill="#fff" stroke="#1a1a1a" stroke-width="0.55" />
<line x1="136.20" y1="257.60" x2="140.50" y2="257.60" stroke="#7a1a2a" stroke-width="1.1" />
<text x="84.60" y="251.85" font-size="6.3" text-anchor="middle" fill="#3a3a3a" font-weight="bold" textLength="18.6" lengthAdjust="spacingAndGlyphs" transform="rotate(-90 84.60 251.85)" >LogExp</text>
<rect x="168.80" y="214.20" width="54.90" height="11.30" fill="#e0dfe4" stroke="#2a2a2a" stroke-width="0.8" />
<text x="196.25" y="222.05" font-size="5.9" text-anchor="middle" fill="#1a1a1a"  stroke="#1a1a1a" stroke-width="0.1">Mettl7a1</text>
<rect x="168.80" y="225.50" width="54.90" height="52.10" fill="#fff" stroke="#2a2a2a" stroke-width="0.8" />
<line x1="166.30" y1="237.60" x2="168.80" y2="237.60" stroke="#2a2a2a" stroke-width="0.7" />
<text x="164.40" y="239.70" font-size="6.1" text-anchor="end" fill="#222"  stroke="#222" stroke-width="0.12">2</text>
<line x1="166.30" y1="252.70" x2="168.80" y2="252.70" stroke="#2a2a2a" stroke-width="0.7" />
<text x="164.40" y="254.80" font-size="6.1" text-anchor="end" fill="#222"  stroke="#222" stroke-width="0.12">1</text>
<line x1="166.30" y1="268.00" x2="168.80" y2="268.00" stroke="#2a2a2a" stroke-width="0.7" />
<text x="164.40" y="270.10" font-size="6.1" text-anchor="end" fill="#222"  stroke="#222" stroke-width="0.12">0</text>
<line x1="183.60" y1="277.60" x2="183.60" y2="279.80" stroke="#2a2a2a" stroke-width="0.7" />
<line x1="208.60" y1="277.60" x2="208.60" y2="279.80" stroke="#2a2a2a" stroke-width="0.7" />
<line x1="183.60" y1="236.40" x2="208.60" y2="236.40" stroke="#777" stroke-width="0.8" />
<line x1="193.15" y1="232.45" x2="193.15" y2="234.35" stroke="#333" stroke-width="0.55" />
<line x1="192.33" y1="232.93" x2="193.97" y2="233.88" stroke="#333" stroke-width="0.55" />
<line x1="193.97" y1="232.93" x2="192.33" y2="233.88" stroke="#333" stroke-width="0.55" />
<line x1="195.25" y1="232.45" x2="195.25" y2="234.35" stroke="#333" stroke-width="0.55" />
<line x1="194.43" y1="232.93" x2="196.07" y2="233.88" stroke="#333" stroke-width="0.55" />
<line x1="196.07" y1="232.93" x2="194.43" y2="233.88" stroke="#333" stroke-width="0.55" />
<line x1="197.35" y1="232.45" x2="197.35" y2="234.35" stroke="#333" stroke-width="0.55" />
<line x1="196.53" y1="232.93" x2="198.17" y2="233.88" stroke="#333" stroke-width="0.55" />
<line x1="198.17" y1="232.93" x2="196.53" y2="233.88" stroke="#333" stroke-width="0.55" />
<line x1="199.45" y1="232.45" x2="199.45" y2="234.35" stroke="#333" stroke-width="0.55" />
<line x1="198.63" y1="232.93" x2="200.27" y2="233.88" stroke="#333" stroke-width="0.55" />
<line x1="200.27" y1="232.93" x2="198.63" y2="233.88" stroke="#333" stroke-width="0.55" />
<path d="M183.60,242.70 C183.75,242.88 184.32,243.18 184.50,243.80 C184.68,244.42 184.58,245.40 184.70,246.40 C184.82,247.40 184.97,248.77 185.20,249.80 C185.43,250.83 185.90,251.57 186.10,252.60 C186.30,253.63 186.37,254.85 186.40,256.00 C186.43,257.15 186.27,258.45 186.30,259.50 C186.33,260.55 186.25,261.45 186.60,262.30 C186.95,263.15 187.35,263.93 188.40,264.60 C189.45,265.27 191.62,265.77 192.90,266.30 C194.18,266.83 196.18,267.33 196.10,267.80 C196.02,268.27 193.88,268.60 192.40,269.10 C190.92,269.60 188.67,270.13 187.20,270.80 C185.73,271.47 184.20,272.72 183.60,273.10 L183.60,273.10 C183.00,272.72 181.47,271.47 180.00,270.80 C178.53,270.13 176.28,269.60 174.80,269.10 C173.32,268.60 171.18,268.27 171.10,267.80 C171.02,267.33 173.02,266.83 174.30,266.30 C175.58,265.77 177.75,265.27 178.80,264.60 C179.85,263.93 180.25,263.15 180.60,262.30 C180.95,261.45 180.87,260.55 180.90,259.50 C180.93,258.45 180.77,257.15 180.80,256.00 C180.83,254.85 180.90,253.63 181.10,252.60 C181.30,251.57 181.77,250.83 182.00,249.80 C182.23,248.77 182.38,247.40 182.50,246.40 C182.62,245.40 182.52,244.42 182.70,243.80 C182.88,243.18 183.45,242.88 183.60,242.70Z" fill="#c8031f" stroke="#1a1a1a" stroke-width="0.55" stroke-linejoin="round"/>
<line x1="183.60" y1="236.40" x2="183.60" y2="258.30" stroke="#1a1a1a" stroke-width="0.6" />
<rect x="181.90" y="258.30" width="4.00" height="9.10" fill="#fff" stroke="#1a1a1a" stroke-width="0.55" />
<circle cx="183.60" cy="242.50" r="1.0" fill="#111"/>
<path d="M208.60,239.50 C208.68,239.68 208.77,240.08 209.10,240.60 C209.43,241.12 209.92,241.82 210.60,242.60 C211.28,243.38 212.32,244.42 213.20,245.30 C214.08,246.18 215.00,246.92 215.90,247.90 C216.80,248.88 217.78,249.98 218.60,251.20 C219.42,252.42 220.58,254.08 220.80,255.20 C221.02,256.32 220.38,257.02 219.90,257.90 C219.42,258.78 218.02,259.50 217.90,260.50 C217.78,261.50 218.87,262.90 219.20,263.90 C219.53,264.90 220.33,265.62 219.90,266.50 C219.47,267.38 217.93,268.32 216.60,269.20 C215.27,270.08 213.07,271.03 211.90,271.80 C210.73,272.57 210.15,273.25 209.60,273.80 C209.05,274.35 208.77,274.88 208.60,275.10 L208.60,275.10 C208.43,274.88 208.15,274.35 207.60,273.80 C207.05,273.25 206.47,272.57 205.30,271.80 C204.13,271.03 201.93,270.08 200.60,269.20 C199.27,268.32 197.73,267.38 197.30,266.50 C196.87,265.62 197.67,264.90 198.00,263.90 C198.33,262.90 199.42,261.50 199.30,260.50 C199.18,259.50 197.78,258.78 197.30,257.90 C196.82,257.02 196.18,256.32 196.40,255.20 C196.62,254.08 197.78,252.42 198.60,251.20 C199.42,249.98 200.40,248.88 201.30,247.90 C202.20,246.92 203.12,246.18 204.00,245.30 C204.88,244.42 205.92,243.38 206.60,242.60 C207.28,241.82 207.77,241.12 208.10,240.60 C208.43,240.08 208.52,239.68 208.60,239.50Z" fill="#2ea4e0" stroke="#1a1a1a" stroke-width="0.55" stroke-linejoin="round"/>
<line x1="208.60" y1="231.60" x2="208.60" y2="253.90" stroke="#1a1a1a" stroke-width="0.6" />
<line x1="208.60" y1="267.80" x2="208.60" y2="272.00" stroke="#1a1a1a" stroke-width="0.6" />
<rect x="206.60" y="253.90" width="4.00" height="13.90" fill="#fff" stroke="#1a1a1a" stroke-width="0.55" />
<line x1="206.60" y1="258.80" x2="210.60" y2="258.80" stroke="#7a1a2a" stroke-width="1.1" />
<rect x="240.50" y="214.20" width="52.90" height="11.30" fill="#e0dfe4" stroke="#2a2a2a" stroke-width="0.8" />
<text x="266.95" y="222.05" font-size="5.9" text-anchor="middle" fill="#1a1a1a"  stroke="#1a1a1a" stroke-width="0.1">Hsp90aa1</text>
<rect x="240.50" y="225.50" width="52.90" height="52.10" fill="#fff" stroke="#2a2a2a" stroke-width="0.8" />
<line x1="238.00" y1="225.90" x2="240.50" y2="225.90" stroke="#2a2a2a" stroke-width="0.7" />
<text x="236.10" y="228.00" font-size="6.1" text-anchor="end" fill="#222"  stroke="#222" stroke-width="0.12">4</text>
<line x1="238.00" y1="236.80" x2="240.50" y2="236.80" stroke="#2a2a2a" stroke-width="0.7" />
<text x="236.10" y="238.90" font-size="6.1" text-anchor="end" fill="#222"  stroke="#222" stroke-width="0.12">3</text>
<line x1="238.00" y1="247.80" x2="240.50" y2="247.80" stroke="#2a2a2a" stroke-width="0.7" />
<text x="236.10" y="249.90" font-size="6.1" text-anchor="end" fill="#222"  stroke="#222" stroke-width="0.12">2</text>
<line x1="238.00" y1="258.30" x2="240.50" y2="258.30" stroke="#2a2a2a" stroke-width="0.7" />
<text x="236.10" y="260.40" font-size="6.1" text-anchor="end" fill="#222"  stroke="#222" stroke-width="0.12">1</text>
<line x1="238.00" y1="268.50" x2="240.50" y2="268.50" stroke="#2a2a2a" stroke-width="0.7" />
<text x="236.10" y="270.60" font-size="6.1" text-anchor="end" fill="#222"  stroke="#222" stroke-width="0.12">0</text>
<line x1="254.20" y1="277.60" x2="254.20" y2="279.80" stroke="#2a2a2a" stroke-width="0.7" />
<line x1="279.20" y1="277.60" x2="279.20" y2="279.80" stroke="#2a2a2a" stroke-width="0.7" />
<line x1="254.20" y1="236.00" x2="279.20" y2="236.00" stroke="#777" stroke-width="0.8" />
<line x1="265.75" y1="232.05" x2="265.75" y2="233.95" stroke="#333" stroke-width="0.55" />
<line x1="264.93" y1="232.53" x2="266.57" y2="233.47" stroke="#333" stroke-width="0.55" />
<line x1="266.57" y1="232.53" x2="264.93" y2="233.47" stroke="#333" stroke-width="0.55" />
<line x1="267.85" y1="232.05" x2="267.85" y2="233.95" stroke="#333" stroke-width="0.55" />
<line x1="267.03" y1="232.53" x2="268.67" y2="233.47" stroke="#333" stroke-width="0.55" />
<line x1="268.67" y1="232.53" x2="267.03" y2="233.47" stroke="#333" stroke-width="0.55" />
<path d="M254.20,233.50 C254.28,233.77 254.32,234.42 254.70,235.10 C255.08,235.78 255.57,236.75 256.50,237.60 C257.43,238.45 259.13,239.35 260.30,240.20 C261.47,241.05 262.58,241.65 263.50,242.70 C264.42,243.75 265.33,245.33 265.80,246.50 C266.27,247.67 266.48,248.53 266.30,249.70 C266.12,250.87 265.60,252.33 264.70,253.50 C263.80,254.67 262.27,255.63 260.90,256.70 C259.53,257.77 257.43,258.95 256.50,259.90 C255.57,260.85 255.38,261.45 255.30,262.40 C255.22,263.35 255.78,264.65 256.00,265.60 C256.22,266.55 256.62,267.25 256.60,268.10 C256.58,268.95 256.20,269.95 255.90,270.70 C255.60,271.45 255.08,271.97 254.80,272.60 C254.52,273.23 254.30,274.18 254.20,274.50 L254.20,274.50 C254.10,274.18 253.88,273.23 253.60,272.60 C253.32,271.97 252.80,271.45 252.50,270.70 C252.20,269.95 251.82,268.95 251.80,268.10 C251.78,267.25 252.18,266.55 252.40,265.60 C252.62,264.65 253.18,263.35 253.10,262.40 C253.02,261.45 252.83,260.85 251.90,259.90 C250.97,258.95 248.87,257.77 247.50,256.70 C246.13,255.63 244.60,254.67 243.70,253.50 C242.80,252.33 242.28,250.87 242.10,249.70 C241.92,248.53 242.13,247.67 242.60,246.50 C243.07,245.33 243.98,243.75 244.90,242.70 C245.82,241.65 246.93,241.05 248.10,240.20 C249.27,239.35 250.97,238.45 251.90,237.60 C252.83,236.75 253.32,235.78 253.70,235.10 C254.08,234.42 254.12,233.77 254.20,233.50Z" fill="#c8031f" stroke="#1a1a1a" stroke-width="0.55" stroke-linejoin="round"/>
<line x1="254.20" y1="231.60" x2="254.20" y2="245.90" stroke="#1a1a1a" stroke-width="0.6" />
<line x1="254.20" y1="254.80" x2="254.20" y2="273.00" stroke="#1a1a1a" stroke-width="0.6" />
<rect x="252.10" y="245.90" width="4.40" height="8.90" fill="#fff" stroke="#1a1a1a" stroke-width="0.55" />
<line x1="252.10" y1="250.30" x2="256.50" y2="250.30" stroke="#7a1a2a" stroke-width="1.1" />
<path d="M279.20,238.00 C279.28,238.25 279.42,238.82 279.70,239.50 C279.98,240.18 280.28,241.25 280.90,242.10 C281.52,242.95 282.45,243.75 283.40,244.60 C284.35,245.45 285.55,246.35 286.60,247.20 C287.65,248.05 288.92,248.75 289.70,249.70 C290.48,250.65 291.30,251.95 291.30,252.90 C291.30,253.85 290.48,254.55 289.70,255.40 C288.92,256.25 287.33,257.25 286.60,258.00 C285.87,258.75 285.45,259.27 285.30,259.90 C285.15,260.53 285.92,261.17 285.70,261.80 C285.48,262.43 284.80,262.97 284.00,263.70 C283.20,264.43 281.53,265.35 280.90,266.20 C280.27,267.05 280.35,267.92 280.20,268.80 C280.05,269.68 280.17,270.55 280.00,271.50 C279.83,272.45 279.33,274.00 279.20,274.50 L279.20,274.50 C279.07,274.00 278.57,272.45 278.40,271.50 C278.23,270.55 278.35,269.68 278.20,268.80 C278.05,267.92 278.13,267.05 277.50,266.20 C276.87,265.35 275.20,264.43 274.40,263.70 C273.60,262.97 272.92,262.43 272.70,261.80 C272.48,261.17 273.25,260.53 273.10,259.90 C272.95,259.27 272.53,258.75 271.80,258.00 C271.07,257.25 269.48,256.25 268.70,255.40 C267.92,254.55 267.10,253.85 267.10,252.90 C267.10,251.95 267.92,250.65 268.70,249.70 C269.48,248.75 270.75,248.05 271.80,247.20 C272.85,246.35 274.05,245.45 275.00,244.60 C275.95,243.75 276.88,242.95 277.50,242.10 C278.12,241.25 278.42,240.18 278.70,239.50 C278.98,238.82 279.12,238.25 279.20,238.00Z" fill="#2ea4e0" stroke="#1a1a1a" stroke-width="0.55" stroke-linejoin="round"/>
<line x1="279.20" y1="236.00" x2="279.20" y2="249.70" stroke="#1a1a1a" stroke-width="0.6" />
<line x1="279.20" y1="257.30" x2="279.20" y2="272.00" stroke="#1a1a1a" stroke-width="0.6" />
<rect x="277.10" y="249.70" width="4.40" height="7.60" fill="#fff" stroke="#1a1a1a" stroke-width="0.55" />
<line x1="277.10" y1="253.50" x2="281.50" y2="253.50" stroke="#7a1a2a" stroke-width="1.1" />
<path d="M279.2,265.5 C280.5,268.65 280.5,271.35 279.2,274.5 C277.9,271.35 277.9,268.65 279.2,265.5Z" fill="#111"/>
<rect x="314.00" y="214.20" width="52.80" height="11.30" fill="#e0dfe4" stroke="#2a2a2a" stroke-width="0.8" />
<text x="340.40" y="222.05" font-size="5.9" text-anchor="middle" fill="#1a1a1a"  stroke="#1a1a1a" stroke-width="0.1">Hlf</text>
<rect x="314.00" y="225.50" width="52.80" height="52.10" fill="#fff" stroke="#2a2a2a" stroke-width="0.8" />
<line x1="311.50" y1="233.90" x2="314.00" y2="233.90" stroke="#2a2a2a" stroke-width="0.7" />
<text x="309.60" y="236.00" font-size="6.1" text-anchor="end" fill="#222"  stroke="#222" stroke-width="0.12">4</text>
<line x1="311.50" y1="242.70" x2="314.00" y2="242.70" stroke="#2a2a2a" stroke-width="0.7" />
<text x="309.60" y="244.80" font-size="6.1" text-anchor="end" fill="#222"  stroke="#222" stroke-width="0.12">3</text>
<line x1="311.50" y1="251.50" x2="314.00" y2="251.50" stroke="#2a2a2a" stroke-width="0.7" />
<text x="309.60" y="253.60" font-size="6.1" text-anchor="end" fill="#222"  stroke="#222" stroke-width="0.12">2</text>
<line x1="311.50" y1="260.20" x2="314.00" y2="260.20" stroke="#2a2a2a" stroke-width="0.7" />
<text x="309.60" y="262.30" font-size="6.1" text-anchor="end" fill="#222"  stroke="#222" stroke-width="0.12">1</text>
<line x1="311.50" y1="269.30" x2="314.00" y2="269.30" stroke="#2a2a2a" stroke-width="0.7" />
<text x="309.60" y="271.40" font-size="6.1" text-anchor="end" fill="#222"  stroke="#222" stroke-width="0.12">0</text>
<line x1="311.50" y1="277.80" x2="314.00" y2="277.80" stroke="#2a2a2a" stroke-width="0.7" />
<text x="309.60" y="279.90" font-size="6.1" text-anchor="end" fill="#222"  stroke="#222" stroke-width="0.12">−1</text>
<line x1="328.10" y1="277.60" x2="328.10" y2="279.80" stroke="#2a2a2a" stroke-width="0.7" />
<line x1="352.50" y1="277.60" x2="352.50" y2="279.80" stroke="#2a2a2a" stroke-width="0.7" />
<line x1="328.10" y1="234.90" x2="352.50" y2="234.90" stroke="#777" stroke-width="0.8" />
<line x1="337.15" y1="230.95" x2="337.15" y2="232.85" stroke="#333" stroke-width="0.55" />
<line x1="336.33" y1="231.43" x2="337.97" y2="232.38" stroke="#333" stroke-width="0.55" />
<line x1="337.97" y1="231.43" x2="336.33" y2="232.38" stroke="#333" stroke-width="0.55" />
<line x1="339.25" y1="230.95" x2="339.25" y2="232.85" stroke="#333" stroke-width="0.55" />
<line x1="338.43" y1="231.43" x2="340.07" y2="232.38" stroke="#333" stroke-width="0.55" />
<line x1="340.07" y1="231.43" x2="338.43" y2="232.38" stroke="#333" stroke-width="0.55" />
<line x1="341.35" y1="230.95" x2="341.35" y2="232.85" stroke="#333" stroke-width="0.55" />
<line x1="340.53" y1="231.43" x2="342.17" y2="232.38" stroke="#333" stroke-width="0.55" />
<line x1="342.17" y1="231.43" x2="340.53" y2="232.38" stroke="#333" stroke-width="0.55" />
<line x1="343.45" y1="230.95" x2="343.45" y2="232.85" stroke="#333" stroke-width="0.55" />
<line x1="342.63" y1="231.43" x2="344.27" y2="232.38" stroke="#333" stroke-width="0.55" />
<line x1="344.27" y1="231.43" x2="342.63" y2="232.38" stroke="#333" stroke-width="0.55" />
<path d="M328.10,240.00 C328.18,240.13 328.22,240.35 328.60,240.80 C328.98,241.25 329.37,241.75 330.40,242.70 C331.43,243.65 333.43,245.23 334.80,246.50 C336.17,247.77 337.63,249.13 338.60,250.30 C339.57,251.47 340.80,252.43 340.60,253.50 C340.40,254.57 338.68,255.53 337.40,256.70 C336.12,257.87 334.08,259.37 332.90,260.50 C331.72,261.63 330.38,262.55 330.30,263.50 C330.22,264.45 331.75,265.43 332.40,266.20 C333.05,266.97 334.43,267.35 334.20,268.10 C333.97,268.85 331.82,269.95 331.00,270.70 C330.18,271.45 329.78,271.87 329.30,272.60 C328.82,273.33 328.30,274.68 328.10,275.10 L328.10,275.10 C327.90,274.68 327.38,273.33 326.90,272.60 C326.42,271.87 326.02,271.45 325.20,270.70 C324.38,269.95 322.23,268.85 322.00,268.10 C321.77,267.35 323.15,266.97 323.80,266.20 C324.45,265.43 325.98,264.45 325.90,263.50 C325.82,262.55 324.48,261.63 323.30,260.50 C322.12,259.37 320.08,257.87 318.80,256.70 C317.52,255.53 315.80,254.57 315.60,253.50 C315.40,252.43 316.63,251.47 317.60,250.30 C318.57,249.13 320.03,247.77 321.40,246.50 C322.77,245.23 324.77,243.65 325.80,242.70 C326.83,241.75 327.22,241.25 327.60,240.80 C327.98,240.35 328.02,240.13 328.10,240.00Z" fill="#c8031f" stroke="#1a1a1a" stroke-width="0.55" stroke-linejoin="round"/>
<line x1="328.10" y1="234.90" x2="328.10" y2="251.60" stroke="#1a1a1a" stroke-width="0.6" />
<rect x="326.10" y="251.60" width="4.40" height="8.90" fill="#fff" stroke="#1a1a1a" stroke-width="0.55" />
<line x1="326.10" y1="255.40" x2="330.50" y2="255.40" stroke="#7a1a2a" stroke-width="1.1" />
<path d="M352.50,235.50 C352.58,235.73 352.70,236.27 353.00,236.90 C353.30,237.53 353.68,238.50 354.30,239.30 C354.92,240.10 355.82,240.90 356.70,241.70 C357.58,242.50 358.62,243.30 359.60,244.10 C360.58,244.90 361.77,245.85 362.60,246.50 C363.43,247.15 364.80,247.42 364.60,248.00 C364.40,248.58 362.52,249.27 361.40,250.00 C360.28,250.73 358.98,251.60 357.90,252.40 C356.82,253.20 355.58,254.10 354.90,254.80 C354.22,255.50 354.00,255.90 353.80,256.60 C353.60,257.30 353.67,258.10 353.70,259.00 C353.73,259.90 354.00,261.08 354.00,262.00 C354.00,262.92 353.95,263.62 353.70,264.50 C353.45,265.38 352.70,266.83 352.50,267.30 L352.50,267.30 C352.30,266.83 351.55,265.38 351.30,264.50 C351.05,263.62 351.00,262.92 351.00,262.00 C351.00,261.08 351.27,259.90 351.30,259.00 C351.33,258.10 351.40,257.30 351.20,256.60 C351.00,255.90 350.78,255.50 350.10,254.80 C349.42,254.10 348.18,253.20 347.10,252.40 C346.02,251.60 344.72,250.73 343.60,250.00 C342.48,249.27 340.60,248.58 340.40,248.00 C340.20,247.42 341.57,247.15 342.40,246.50 C343.23,245.85 344.42,244.90 345.40,244.10 C346.38,243.30 347.42,242.50 348.30,241.70 C349.18,240.90 350.08,240.10 350.70,239.30 C351.32,238.50 351.70,237.53 352.00,236.90 C352.30,236.27 352.42,235.73 352.50,235.50Z" fill="#2ea4e0" stroke="#1a1a1a" stroke-width="0.55" stroke-linejoin="round"/>
<line x1="352.50" y1="233.00" x2="352.50" y2="245.90" stroke="#1a1a1a" stroke-width="0.6" />
<line x1="352.50" y1="250.60" x2="352.50" y2="266.00" stroke="#1a1a1a" stroke-width="0.6" />
<rect x="350.50" y="245.90" width="3.90" height="4.70" fill="#fff" stroke="#1a1a1a" stroke-width="0.55" />
<line x1="350.50" y1="248.20" x2="354.40" y2="248.20" stroke="#7a1a2a" stroke-width="1.1" />
<path d="M352.5,255 C354.19,259.305 354.19,262.995 352.5,267.3 C350.81,262.995 350.81,259.305 352.5,255Z" fill="#111"/>
<rect x="380.60" y="214.20" width="57.00" height="11.30" fill="#e0dfe4" stroke="#2a2a2a" stroke-width="0.8" />
<text x="409.10" y="222.05" font-size="5.9" text-anchor="middle" fill="#1a1a1a"  stroke="#1a1a1a" stroke-width="0.1">Pbx1</text>
<rect x="380.60" y="225.50" width="57.00" height="52.10" fill="#fff" stroke="#2a2a2a" stroke-width="0.8" />
<line x1="378.10" y1="231.00" x2="380.60" y2="231.00" stroke="#2a2a2a" stroke-width="0.7" />
<text x="376.20" y="233.10" font-size="6.1" text-anchor="end" fill="#222"  stroke="#222" stroke-width="0.12">4</text>
<line x1="378.10" y1="241.20" x2="380.60" y2="241.20" stroke="#2a2a2a" stroke-width="0.7" />
<text x="376.20" y="243.30" font-size="6.1" text-anchor="end" fill="#222"  stroke="#222" stroke-width="0.12">3</text>
<line x1="378.10" y1="251.00" x2="380.60" y2="251.00" stroke="#2a2a2a" stroke-width="0.7" />
<text x="376.20" y="253.10" font-size="6.1" text-anchor="end" fill="#222"  stroke="#222" stroke-width="0.12">2</text>
<line x1="378.10" y1="260.70" x2="380.60" y2="260.70" stroke="#2a2a2a" stroke-width="0.7" />
<text x="376.20" y="262.80" font-size="6.1" text-anchor="end" fill="#222"  stroke="#222" stroke-width="0.12">1</text>
<line x1="378.10" y1="270.50" x2="380.60" y2="270.50" stroke="#2a2a2a" stroke-width="0.7" />
<text x="376.20" y="272.60" font-size="6.1" text-anchor="end" fill="#222"  stroke="#222" stroke-width="0.12">0</text>
<line x1="395.90" y1="277.60" x2="395.90" y2="279.80" stroke="#2a2a2a" stroke-width="0.7" />
<line x1="421.60" y1="277.60" x2="421.60" y2="279.80" stroke="#2a2a2a" stroke-width="0.7" />
<line x1="395.90" y1="233.80" x2="421.60" y2="233.80" stroke="#777" stroke-width="0.8" />
<line x1="405.35" y1="229.85" x2="405.35" y2="231.75" stroke="#333" stroke-width="0.55" />
<line x1="404.53" y1="230.33" x2="406.17" y2="231.28" stroke="#333" stroke-width="0.55" />
<line x1="406.17" y1="230.33" x2="404.53" y2="231.28" stroke="#333" stroke-width="0.55" />
<line x1="407.45" y1="229.85" x2="407.45" y2="231.75" stroke="#333" stroke-width="0.55" />
<line x1="406.63" y1="230.33" x2="408.27" y2="231.28" stroke="#333" stroke-width="0.55" />
<line x1="408.27" y1="230.33" x2="406.63" y2="231.28" stroke="#333" stroke-width="0.55" />
<line x1="409.55" y1="229.85" x2="409.55" y2="231.75" stroke="#333" stroke-width="0.55" />
<line x1="408.73" y1="230.33" x2="410.37" y2="231.28" stroke="#333" stroke-width="0.55" />
<line x1="410.37" y1="230.33" x2="408.73" y2="231.28" stroke="#333" stroke-width="0.55" />
<line x1="411.65" y1="229.85" x2="411.65" y2="231.75" stroke="#333" stroke-width="0.55" />
<line x1="410.83" y1="230.33" x2="412.47" y2="231.28" stroke="#333" stroke-width="0.55" />
<line x1="412.47" y1="230.33" x2="410.83" y2="231.28" stroke="#333" stroke-width="0.55" />
<path d="M395.90,252.00 C396.00,252.15 396.32,252.43 396.50,252.90 C396.68,253.37 396.53,254.17 397.00,254.80 C397.47,255.43 398.53,256.07 399.30,256.70 C400.07,257.33 401.00,257.97 401.60,258.60 C402.20,259.23 402.65,259.87 402.90,260.50 C403.15,261.13 403.27,261.77 403.10,262.40 C402.93,263.03 402.22,263.67 401.90,264.30 C401.58,264.93 400.78,265.57 401.20,266.20 C401.62,266.83 403.18,267.47 404.40,268.10 C405.62,268.73 408.50,269.40 408.50,270.00 C408.50,270.60 406.03,271.17 404.40,271.70 C402.77,272.23 400.12,272.63 398.70,273.20 C397.28,273.77 396.37,274.78 395.90,275.10 L395.90,275.10 C395.43,274.78 394.52,273.77 393.10,273.20 C391.68,272.63 389.03,272.23 387.40,271.70 C385.77,271.17 383.30,270.60 383.30,270.00 C383.30,269.40 386.18,268.73 387.40,268.10 C388.62,267.47 390.18,266.83 390.60,266.20 C391.02,265.57 390.22,264.93 389.90,264.30 C389.58,263.67 388.87,263.03 388.70,262.40 C388.53,261.77 388.65,261.13 388.90,260.50 C389.15,259.87 389.60,259.23 390.20,258.60 C390.80,257.97 391.73,257.33 392.50,256.70 C393.27,256.07 394.33,255.43 394.80,254.80 C395.27,254.17 395.12,253.37 395.30,252.90 C395.48,252.43 395.80,252.15 395.90,252.00Z" fill="#c8031f" stroke="#1a1a1a" stroke-width="0.55" stroke-linejoin="round"/>
<line x1="395.90" y1="233.80" x2="395.90" y2="261.80" stroke="#1a1a1a" stroke-width="0.6" />
<rect x="393.70" y="261.80" width="4.50" height="9.50" fill="#fff" stroke="#1a1a1a" stroke-width="0.55" />
<line x1="393.70" y1="266.20" x2="398.20" y2="266.20" stroke="#7a1a2a" stroke-width="1.1" />
<circle cx="395.90" cy="237.40" r="1.0" fill="#111"/>
<path d="M421.60,241.10 C421.75,241.97 422.32,245.07 422.50,246.30 C422.68,247.53 422.38,247.75 422.70,248.50 C423.02,249.25 423.53,250.03 424.40,250.80 C425.27,251.57 426.85,252.43 427.90,253.10 C428.95,253.77 429.75,254.13 430.70,254.80 C431.65,255.47 433.32,256.35 433.60,257.10 C433.88,257.85 432.88,258.55 432.40,259.30 C431.92,260.05 431.17,260.93 430.70,261.60 C430.23,262.27 429.82,262.73 429.60,263.30 C429.38,263.87 429.68,264.42 429.40,265.00 C429.12,265.58 428.63,266.13 427.90,266.80 C427.17,267.47 425.80,268.25 425.00,269.00 C424.20,269.75 423.55,270.55 423.10,271.30 C422.65,272.05 422.55,272.83 422.30,273.50 C422.05,274.17 421.72,275.00 421.60,275.30 L421.60,275.30 C421.48,275.00 421.15,274.17 420.90,273.50 C420.65,272.83 420.55,272.05 420.10,271.30 C419.65,270.55 419.00,269.75 418.20,269.00 C417.40,268.25 416.03,267.47 415.30,266.80 C414.57,266.13 414.08,265.58 413.80,265.00 C413.52,264.42 413.82,263.87 413.60,263.30 C413.38,262.73 412.97,262.27 412.50,261.60 C412.03,260.93 411.28,260.05 410.80,259.30 C410.32,258.55 409.32,257.85 409.60,257.10 C409.88,256.35 411.55,255.47 412.50,254.80 C413.45,254.13 414.25,253.77 415.30,253.10 C416.35,252.43 417.93,251.57 418.80,250.80 C419.67,250.03 420.18,249.25 420.50,248.50 C420.82,247.75 420.52,247.53 420.70,246.30 C420.88,245.07 421.45,241.97 421.60,241.10Z" fill="#2ea4e0" stroke="#1a1a1a" stroke-width="0.55" stroke-linejoin="round"/>
<line x1="421.60" y1="241.80" x2="421.60" y2="256.50" stroke="#1a1a1a" stroke-width="0.6" />
<line x1="421.60" y1="263.90" x2="421.60" y2="273.00" stroke="#1a1a1a" stroke-width="0.6" />
<rect x="419.40" y="256.50" width="4.30" height="7.40" fill="#fff" stroke="#1a1a1a" stroke-width="0.55" />
<line x1="419.40" y1="260.10" x2="423.70" y2="260.10" stroke="#7a1a2a" stroke-width="1.1" />
<rect x="98.60" y="284.80" width="54.80" height="11.20" fill="#e0dfe4" stroke="#2a2a2a" stroke-width="0.8" />
<text x="126.00" y="292.60" font-size="5.9" text-anchor="middle" fill="#1a1a1a"  stroke="#1a1a1a" stroke-width="0.1">Mllt3</text>
<rect x="98.60" y="296.00" width="54.80" height="51.60" fill="#fff" stroke="#2a2a2a" stroke-width="0.8" />
<line x1="96.10" y1="303.90" x2="98.60" y2="303.90" stroke="#2a2a2a" stroke-width="0.7" />
<text x="94.20" y="306.00" font-size="6.1" text-anchor="end" fill="#222"  stroke="#222" stroke-width="0.12">3</text>
<line x1="96.10" y1="315.60" x2="98.60" y2="315.60" stroke="#2a2a2a" stroke-width="0.7" />
<text x="94.20" y="317.70" font-size="6.1" text-anchor="end" fill="#222"  stroke="#222" stroke-width="0.12">2</text>
<line x1="96.10" y1="327.00" x2="98.60" y2="327.00" stroke="#2a2a2a" stroke-width="0.7" />
<text x="94.20" y="329.10" font-size="6.1" text-anchor="end" fill="#222"  stroke="#222" stroke-width="0.12">1</text>
<line x1="96.10" y1="338.50" x2="98.60" y2="338.50" stroke="#2a2a2a" stroke-width="0.7" />
<text x="94.20" y="340.60" font-size="6.1" text-anchor="end" fill="#222"  stroke="#222" stroke-width="0.12">0</text>
<line x1="113.40" y1="347.60" x2="113.40" y2="349.80" stroke="#2a2a2a" stroke-width="0.7" />
<line x1="138.20" y1="347.60" x2="138.20" y2="349.80" stroke="#2a2a2a" stroke-width="0.7" />
<line x1="113.40" y1="304.90" x2="138.20" y2="304.90" stroke="#777" stroke-width="0.8" />
<line x1="122.85" y1="300.95" x2="122.85" y2="302.85" stroke="#333" stroke-width="0.55" />
<line x1="122.03" y1="301.42" x2="123.67" y2="302.38" stroke="#333" stroke-width="0.55" />
<line x1="123.67" y1="301.42" x2="122.03" y2="302.38" stroke="#333" stroke-width="0.55" />
<line x1="124.95" y1="300.95" x2="124.95" y2="302.85" stroke="#333" stroke-width="0.55" />
<line x1="124.13" y1="301.42" x2="125.77" y2="302.38" stroke="#333" stroke-width="0.55" />
<line x1="125.77" y1="301.42" x2="124.13" y2="302.38" stroke="#333" stroke-width="0.55" />
<line x1="127.05" y1="300.95" x2="127.05" y2="302.85" stroke="#333" stroke-width="0.55" />
<line x1="126.23" y1="301.42" x2="127.87" y2="302.38" stroke="#333" stroke-width="0.55" />
<line x1="127.87" y1="301.42" x2="126.23" y2="302.38" stroke="#333" stroke-width="0.55" />
<line x1="129.15" y1="300.95" x2="129.15" y2="302.85" stroke="#333" stroke-width="0.55" />
<line x1="128.33" y1="301.42" x2="129.97" y2="302.38" stroke="#333" stroke-width="0.55" />
<line x1="129.97" y1="301.42" x2="128.33" y2="302.38" stroke="#333" stroke-width="0.55" />
<path d="M113.40,310.50 C113.48,310.72 113.62,310.82 113.90,311.80 C114.18,312.78 114.52,315.07 115.10,316.40 C115.68,317.73 116.55,318.67 117.40,319.80 C118.25,320.93 119.50,322.07 120.20,323.20 C120.90,324.33 121.50,325.55 121.60,326.60 C121.70,327.65 121.32,328.55 120.80,329.50 C120.28,330.45 118.40,331.45 118.50,332.30 C118.60,333.15 120.35,333.83 121.40,334.60 C122.45,335.37 124.05,336.23 124.80,336.90 C125.55,337.57 126.28,338.03 125.90,338.60 C125.52,339.17 124.02,339.65 122.50,340.30 C120.98,340.95 118.32,341.75 116.80,342.50 C115.28,343.25 113.97,344.42 113.40,344.80 L113.40,344.80 C112.83,344.42 111.52,343.25 110.00,342.50 C108.48,341.75 105.82,340.95 104.30,340.30 C102.78,339.65 101.28,339.17 100.90,338.60 C100.52,338.03 101.25,337.57 102.00,336.90 C102.75,336.23 104.35,335.37 105.40,334.60 C106.45,333.83 108.20,333.15 108.30,332.30 C108.40,331.45 106.52,330.45 106.00,329.50 C105.48,328.55 105.10,327.65 105.20,326.60 C105.30,325.55 105.90,324.33 106.60,323.20 C107.30,322.07 108.55,320.93 109.40,319.80 C110.25,318.67 111.12,317.73 111.70,316.40 C112.28,315.07 112.62,312.78 112.90,311.80 C113.18,310.82 113.32,310.72 113.40,310.50Z" fill="#c8031f" stroke="#1a1a1a" stroke-width="0.55" stroke-linejoin="round"/>
<line x1="113.40" y1="301.60" x2="113.40" y2="327.20" stroke="#1a1a1a" stroke-width="0.6" />
<rect x="111.90" y="327.20" width="4.00" height="11.90" fill="#fff" stroke="#1a1a1a" stroke-width="0.55" />
<line x1="111.90" y1="331.70" x2="115.90" y2="331.70" stroke="#7a1a2a" stroke-width="1.1" />
<circle cx="113.40" cy="307.90" r="1.0" fill="#111"/>
<path d="M138.20,306.00 C138.28,306.27 138.48,306.90 138.70,307.60 C138.92,308.30 139.05,309.35 139.50,310.20 C139.95,311.05 140.55,311.75 141.40,312.70 C142.25,313.65 143.58,314.83 144.60,315.90 C145.62,316.97 146.67,318.05 147.50,319.10 C148.33,320.15 149.07,321.15 149.60,322.20 C150.13,323.25 150.70,324.33 150.70,325.40 C150.70,326.47 150.20,327.53 149.60,328.60 C149.00,329.67 148.05,330.75 147.10,331.80 C146.15,332.85 144.90,333.85 143.90,334.90 C142.90,335.95 141.80,337.13 141.10,338.10 C140.40,339.07 140.18,339.75 139.70,340.70 C139.22,341.65 138.45,343.28 138.20,343.80 L138.20,343.80 C137.95,343.28 137.18,341.65 136.70,340.70 C136.22,339.75 136.00,339.07 135.30,338.10 C134.60,337.13 133.50,335.95 132.50,334.90 C131.50,333.85 130.25,332.85 129.30,331.80 C128.35,330.75 127.40,329.67 126.80,328.60 C126.20,327.53 125.70,326.47 125.70,325.40 C125.70,324.33 126.27,323.25 126.80,322.20 C127.33,321.15 128.07,320.15 128.90,319.10 C129.73,318.05 130.78,316.97 131.80,315.90 C132.82,314.83 134.15,313.65 135.00,312.70 C135.85,311.75 136.45,311.05 136.90,310.20 C137.35,309.35 137.48,308.30 137.70,307.60 C137.92,306.90 138.12,306.27 138.20,306.00Z" fill="#2ea4e0" stroke="#1a1a1a" stroke-width="0.55" stroke-linejoin="round"/>
<line x1="138.20" y1="304.90" x2="138.20" y2="322.20" stroke="#1a1a1a" stroke-width="0.6" />
<line x1="138.20" y1="331.10" x2="138.20" y2="342.00" stroke="#1a1a1a" stroke-width="0.6" />
<rect x="136.30" y="322.20" width="4.50" height="8.90" fill="#fff" stroke="#1a1a1a" stroke-width="0.55" />
<line x1="136.30" y1="326.40" x2="140.80" y2="326.40" stroke="#7a1a2a" stroke-width="1.1" />
<text x="113.40" y="358.80" font-size="6.3" text-anchor="middle" fill="#222"  stroke="#222" stroke-width="0.1">DMSO</text>
<text x="138.20" y="358.80" font-size="6.3" text-anchor="middle" fill="#222"  stroke="#222" stroke-width="0.1">250nM</text>
<text x="84.60" y="322.10" font-size="6.3" text-anchor="middle" fill="#3a3a3a" font-weight="bold" textLength="18.6" lengthAdjust="spacingAndGlyphs" transform="rotate(-90 84.60 322.10)" >LogExp</text>
<rect x="168.80" y="284.80" width="54.90" height="11.20" fill="#e0dfe4" stroke="#2a2a2a" stroke-width="0.8" />
<text x="196.25" y="292.60" font-size="5.9" text-anchor="middle" fill="#1a1a1a"  stroke="#1a1a1a" stroke-width="0.1">Gimap6</text>
<rect x="168.80" y="296.00" width="54.90" height="51.60" fill="#fff" stroke="#2a2a2a" stroke-width="0.8" />
<line x1="166.30" y1="298.90" x2="168.80" y2="298.90" stroke="#2a2a2a" stroke-width="0.7" />
<text x="164.40" y="301.00" font-size="6.1" text-anchor="end" fill="#222"  stroke="#222" stroke-width="0.12">3</text>
<line x1="166.30" y1="312.10" x2="168.80" y2="312.10" stroke="#2a2a2a" stroke-width="0.7" />
<text x="164.40" y="314.20" font-size="6.1" text-anchor="end" fill="#222"  stroke="#222" stroke-width="0.12">2</text>
<line x1="166.30" y1="325.00" x2="168.80" y2="325.00" stroke="#2a2a2a" stroke-width="0.7" />
<text x="164.40" y="327.10" font-size="6.1" text-anchor="end" fill="#222"  stroke="#222" stroke-width="0.12">1</text>
<line x1="166.30" y1="337.70" x2="168.80" y2="337.70" stroke="#2a2a2a" stroke-width="0.7" />
<text x="164.40" y="339.80" font-size="6.1" text-anchor="end" fill="#222"  stroke="#222" stroke-width="0.12">0</text>
<line x1="183.40" y1="347.60" x2="183.40" y2="349.80" stroke="#2a2a2a" stroke-width="0.7" />
<line x1="208.20" y1="347.60" x2="208.20" y2="349.80" stroke="#2a2a2a" stroke-width="0.7" />
<line x1="183.40" y1="305.50" x2="208.20" y2="305.50" stroke="#777" stroke-width="0.8" />
<line x1="194.10" y1="301.55" x2="194.10" y2="303.45" stroke="#333" stroke-width="0.55" />
<line x1="193.28" y1="302.02" x2="194.92" y2="302.98" stroke="#333" stroke-width="0.55" />
<line x1="194.92" y1="302.02" x2="193.28" y2="302.98" stroke="#333" stroke-width="0.55" />
<line x1="196.20" y1="301.55" x2="196.20" y2="303.45" stroke="#333" stroke-width="0.55" />
<line x1="195.38" y1="302.02" x2="197.02" y2="302.98" stroke="#333" stroke-width="0.55" />
<line x1="197.02" y1="302.02" x2="195.38" y2="302.98" stroke="#333" stroke-width="0.55" />
<line x1="198.30" y1="301.55" x2="198.30" y2="303.45" stroke="#333" stroke-width="0.55" />
<line x1="197.48" y1="302.02" x2="199.12" y2="302.98" stroke="#333" stroke-width="0.55" />
<line x1="199.12" y1="302.02" x2="197.48" y2="302.98" stroke="#333" stroke-width="0.55" />
<path d="M183.40,311.00 C183.50,311.18 183.78,311.60 184.00,312.10 C184.22,312.60 184.27,313.27 184.70,314.00 C185.13,314.73 185.97,315.65 186.60,316.50 C187.23,317.35 187.87,318.13 188.50,319.10 C189.13,320.07 189.93,321.25 190.40,322.30 C190.87,323.35 191.30,324.35 191.30,325.40 C191.30,326.45 190.87,327.63 190.40,328.60 C189.93,329.57 188.60,330.35 188.50,331.20 C188.40,332.05 188.95,332.97 189.80,333.70 C190.65,334.43 192.62,335.02 193.60,335.60 C194.58,336.18 195.82,336.67 195.70,337.20 C195.58,337.73 194.20,338.22 192.90,338.80 C191.60,339.38 189.23,340.07 187.90,340.70 C186.57,341.33 185.65,341.97 184.90,342.60 C184.15,343.23 183.65,344.18 183.40,344.50 L183.40,344.50 C183.15,344.18 182.65,343.23 181.90,342.60 C181.15,341.97 180.23,341.33 178.90,340.70 C177.57,340.07 175.20,339.38 173.90,338.80 C172.60,338.22 171.22,337.73 171.10,337.20 C170.98,336.67 172.22,336.18 173.20,335.60 C174.18,335.02 176.15,334.43 177.00,333.70 C177.85,332.97 178.40,332.05 178.30,331.20 C178.20,330.35 176.87,329.57 176.40,328.60 C175.93,327.63 175.50,326.45 175.50,325.40 C175.50,324.35 175.93,323.35 176.40,322.30 C176.87,321.25 177.67,320.07 178.30,319.10 C178.93,318.13 179.57,317.35 180.20,316.50 C180.83,315.65 181.67,314.73 182.10,314.00 C182.53,313.27 182.58,312.60 182.80,312.10 C183.02,311.60 183.30,311.18 183.40,311.00Z" fill="#c8031f" stroke="#1a1a1a" stroke-width="0.55" stroke-linejoin="round"/>
<line x1="183.40" y1="301.60" x2="183.40" y2="323.90" stroke="#1a1a1a" stroke-width="0.6" />
<rect x="181.20" y="323.90" width="4.70" height="13.00" fill="#fff" stroke="#1a1a1a" stroke-width="0.55" />
<line x1="181.20" y1="328.60" x2="185.90" y2="328.60" stroke="#7a1a2a" stroke-width="1.1" />
<path d="M208.20,303.00 C208.28,303.87 208.40,306.73 208.70,308.20 C209.00,309.67 209.25,310.35 210.00,311.80 C210.75,313.25 212.03,315.32 213.20,316.90 C214.37,318.48 215.88,319.95 217.00,321.30 C218.12,322.65 219.35,323.90 219.90,325.00 C220.45,326.10 220.67,326.82 220.30,327.90 C219.93,328.98 218.80,330.17 217.70,331.50 C216.60,332.83 214.95,334.43 213.70,335.90 C212.45,337.37 211.12,338.95 210.20,340.30 C209.28,341.65 208.53,343.38 208.20,344.00 L208.20,344.00 C207.87,343.38 207.12,341.65 206.20,340.30 C205.28,338.95 203.95,337.37 202.70,335.90 C201.45,334.43 199.80,332.83 198.70,331.50 C197.60,330.17 196.47,328.98 196.10,327.90 C195.73,326.82 195.95,326.10 196.50,325.00 C197.05,323.90 198.28,322.65 199.40,321.30 C200.52,319.95 202.03,318.48 203.20,316.90 C204.37,315.32 205.65,313.25 206.40,311.80 C207.15,310.35 207.40,309.67 207.70,308.20 C208.00,306.73 208.12,303.87 208.20,303.00Z" fill="#2ea4e0" stroke="#1a1a1a" stroke-width="0.55" stroke-linejoin="round"/>
<line x1="208.20" y1="301.60" x2="208.20" y2="321.30" stroke="#1a1a1a" stroke-width="0.6" />
<line x1="208.20" y1="330.80" x2="208.20" y2="342.00" stroke="#1a1a1a" stroke-width="0.6" />
<rect x="206.30" y="321.30" width="4.10" height="9.50" fill="#fff" stroke="#1a1a1a" stroke-width="0.55" />
<line x1="206.30" y1="326.00" x2="210.40" y2="326.00" stroke="#7a1a2a" stroke-width="1.1" />
<text x="183.40" y="358.80" font-size="6.3" text-anchor="middle" fill="#222"  stroke="#222" stroke-width="0.1">DMSO</text>
<text x="208.20" y="358.80" font-size="6.3" text-anchor="middle" fill="#222"  stroke="#222" stroke-width="0.1">250nM</text>
<rect x="240.50" y="284.80" width="52.90" height="11.20" fill="#e0dfe4" stroke="#2a2a2a" stroke-width="0.8" />
<text x="266.95" y="292.60" font-size="5.9" text-anchor="middle" fill="#1a1a1a"  stroke="#1a1a1a" stroke-width="0.1">Cdk6</text>
<rect x="240.50" y="296.00" width="52.90" height="51.60" fill="#fff" stroke="#2a2a2a" stroke-width="0.8" />
<line x1="238.00" y1="306.70" x2="240.50" y2="306.70" stroke="#2a2a2a" stroke-width="0.7" />
<text x="236.10" y="308.80" font-size="6.1" text-anchor="end" fill="#222"  stroke="#222" stroke-width="0.12">2</text>
<line x1="238.00" y1="322.60" x2="240.50" y2="322.60" stroke="#2a2a2a" stroke-width="0.7" />
<text x="236.10" y="324.70" font-size="6.1" text-anchor="end" fill="#222"  stroke="#222" stroke-width="0.12">1</text>
<line x1="238.00" y1="337.90" x2="240.50" y2="337.90" stroke="#2a2a2a" stroke-width="0.7" />
<text x="236.10" y="340.00" font-size="6.1" text-anchor="end" fill="#222"  stroke="#222" stroke-width="0.12">0</text>
<line x1="254.30" y1="347.60" x2="254.30" y2="349.80" stroke="#2a2a2a" stroke-width="0.7" />
<line x1="279.20" y1="347.60" x2="279.20" y2="349.80" stroke="#2a2a2a" stroke-width="0.7" />
<line x1="254.30" y1="302.60" x2="279.20" y2="302.60" stroke="#777" stroke-width="0.8" />
<line x1="266.80" y1="298.65" x2="266.80" y2="300.55" stroke="#333" stroke-width="0.55" />
<line x1="265.98" y1="299.12" x2="267.62" y2="300.08" stroke="#333" stroke-width="0.55" />
<line x1="267.62" y1="299.12" x2="265.98" y2="300.08" stroke="#333" stroke-width="0.55" />
<path d="M254.30,311.00 C254.38,311.27 254.62,311.90 254.80,312.60 C254.98,313.30 255.15,314.32 255.40,315.20 C255.65,316.08 256.00,317.02 256.30,317.90 C256.60,318.78 256.92,319.62 257.20,320.50 C257.48,321.38 257.82,322.30 258.00,323.20 C258.18,324.10 258.37,325.13 258.30,325.90 C258.23,326.67 257.82,327.03 257.60,327.80 C257.38,328.57 257.00,329.68 257.00,330.50 C257.00,331.32 256.83,332.03 257.60,332.70 C258.37,333.37 260.27,333.87 261.60,334.50 C262.93,335.13 264.72,336.00 265.60,336.50 C266.48,337.00 267.35,337.07 266.90,337.50 C266.45,337.93 264.45,338.38 262.90,339.10 C261.35,339.82 259.03,340.92 257.60,341.80 C256.17,342.68 254.85,343.97 254.30,344.40 L254.30,344.40 C253.75,343.97 252.43,342.68 251.00,341.80 C249.57,340.92 247.25,339.82 245.70,339.10 C244.15,338.38 242.15,337.93 241.70,337.50 C241.25,337.07 242.12,337.00 243.00,336.50 C243.88,336.00 245.67,335.13 247.00,334.50 C248.33,333.87 250.23,333.37 251.00,332.70 C251.77,332.03 251.60,331.32 251.60,330.50 C251.60,329.68 251.22,328.57 251.00,327.80 C250.78,327.03 250.37,326.67 250.30,325.90 C250.23,325.13 250.42,324.10 250.60,323.20 C250.78,322.30 251.12,321.38 251.40,320.50 C251.68,319.62 252.00,318.78 252.30,317.90 C252.60,317.02 252.95,316.08 253.20,315.20 C253.45,314.32 253.62,313.30 253.80,312.60 C253.98,311.90 254.22,311.27 254.30,311.00Z" fill="#c8031f" stroke="#1a1a1a" stroke-width="0.55" stroke-linejoin="round"/>
<line x1="254.30" y1="300.10" x2="254.30" y2="325.90" stroke="#1a1a1a" stroke-width="0.6" />
<rect x="252.30" y="325.90" width="4.30" height="11.20" fill="#fff" stroke="#1a1a1a" stroke-width="0.55" />
<path d="M279.20,316.50 C279.35,316.93 279.85,318.25 280.10,319.10 C280.35,319.95 280.43,320.77 280.70,321.60 C280.97,322.43 281.32,323.25 281.70,324.10 C282.08,324.95 282.63,325.85 283.00,326.70 C283.37,327.55 283.60,328.35 283.90,329.20 C284.20,330.05 284.38,331.05 284.80,331.80 C285.22,332.55 285.70,333.07 286.40,333.70 C287.10,334.33 288.15,334.97 289.00,335.60 C289.85,336.23 291.82,336.87 291.50,337.50 C291.18,338.13 288.58,338.77 287.10,339.40 C285.62,340.03 283.92,340.57 282.60,341.30 C281.28,342.03 279.77,343.38 279.20,343.80 L279.20,343.80 C278.63,343.38 277.12,342.03 275.80,341.30 C274.48,340.57 272.78,340.03 271.30,339.40 C269.82,338.77 267.22,338.13 266.90,337.50 C266.58,336.87 268.55,336.23 269.40,335.60 C270.25,334.97 271.30,334.33 272.00,333.70 C272.70,333.07 273.18,332.55 273.60,331.80 C274.02,331.05 274.20,330.05 274.50,329.20 C274.80,328.35 275.03,327.55 275.40,326.70 C275.77,325.85 276.32,324.95 276.70,324.10 C277.08,323.25 277.43,322.43 277.70,321.60 C277.97,320.77 278.05,319.95 278.30,319.10 C278.55,318.25 279.05,316.93 279.20,316.50Z" fill="#2ea4e0" stroke="#1a1a1a" stroke-width="0.55" stroke-linejoin="round"/>
<line x1="279.20" y1="306.00" x2="279.20" y2="331.10" stroke="#1a1a1a" stroke-width="0.6" />
<rect x="277.10" y="331.10" width="4.20" height="6.80" fill="#fff" stroke="#1a1a1a" stroke-width="0.55" />
<path d="M279.2,309.5 C280.63,312.65 280.63,315.35 279.2,318.5 C277.77,315.35 277.77,312.65 279.2,309.5Z" fill="#111"/>
<text x="254.30" y="358.80" font-size="6.3" text-anchor="middle" fill="#222"  stroke="#222" stroke-width="0.1">DMSO</text>
<text x="279.20" y="358.80" font-size="6.3" text-anchor="middle" fill="#222"  stroke="#222" stroke-width="0.1">250nM</text>
<rect x="314.00" y="284.80" width="52.80" height="11.20" fill="#e0dfe4" stroke="#2a2a2a" stroke-width="0.8" />
<text x="340.40" y="292.60" font-size="5.9" text-anchor="middle" fill="#1a1a1a"  stroke="#1a1a1a" stroke-width="0.1">Chd9</text>
<rect x="314.00" y="296.00" width="52.80" height="51.60" fill="#fff" stroke="#2a2a2a" stroke-width="0.8" />
<line x1="311.50" y1="298.70" x2="314.00" y2="298.70" stroke="#2a2a2a" stroke-width="0.7" />
<text x="309.60" y="300.80" font-size="6.1" text-anchor="end" fill="#222"  stroke="#222" stroke-width="0.12">3</text>
<line x1="311.50" y1="312.30" x2="314.00" y2="312.30" stroke="#2a2a2a" stroke-width="0.7" />
<text x="309.60" y="314.40" font-size="6.1" text-anchor="end" fill="#222"  stroke="#222" stroke-width="0.12">2</text>
<line x1="311.50" y1="325.70" x2="314.00" y2="325.70" stroke="#2a2a2a" stroke-width="0.7" />
<text x="309.60" y="327.80" font-size="6.1" text-anchor="end" fill="#222"  stroke="#222" stroke-width="0.12">1</text>
<line x1="311.50" y1="339.10" x2="314.00" y2="339.10" stroke="#2a2a2a" stroke-width="0.7" />
<text x="309.60" y="341.20" font-size="6.1" text-anchor="end" fill="#222"  stroke="#222" stroke-width="0.12">0</text>
<line x1="328.10" y1="347.60" x2="328.10" y2="349.80" stroke="#2a2a2a" stroke-width="0.7" />
<line x1="352.50" y1="347.60" x2="352.50" y2="349.80" stroke="#2a2a2a" stroke-width="0.7" />
<line x1="328.10" y1="306.00" x2="352.50" y2="306.00" stroke="#777" stroke-width="0.8" />
<line x1="337.65" y1="302.05" x2="337.65" y2="303.95" stroke="#333" stroke-width="0.55" />
<line x1="336.83" y1="302.52" x2="338.47" y2="303.48" stroke="#333" stroke-width="0.55" />
<line x1="338.47" y1="302.52" x2="336.83" y2="303.48" stroke="#333" stroke-width="0.55" />
<line x1="339.75" y1="302.05" x2="339.75" y2="303.95" stroke="#333" stroke-width="0.55" />
<line x1="338.93" y1="302.52" x2="340.57" y2="303.48" stroke="#333" stroke-width="0.55" />
<line x1="340.57" y1="302.52" x2="338.93" y2="303.48" stroke="#333" stroke-width="0.55" />
<line x1="341.85" y1="302.05" x2="341.85" y2="303.95" stroke="#333" stroke-width="0.55" />
<line x1="341.03" y1="302.52" x2="342.67" y2="303.48" stroke="#333" stroke-width="0.55" />
<line x1="342.67" y1="302.52" x2="341.03" y2="303.48" stroke="#333" stroke-width="0.55" />
<line x1="343.95" y1="302.05" x2="343.95" y2="303.95" stroke="#333" stroke-width="0.55" />
<line x1="343.13" y1="302.52" x2="344.77" y2="303.48" stroke="#333" stroke-width="0.55" />
<line x1="344.77" y1="302.52" x2="343.13" y2="303.48" stroke="#333" stroke-width="0.55" />
<path d="M328.10,309.50 C328.18,309.72 328.38,310.27 328.60,310.80 C328.82,311.33 328.97,311.95 329.40,312.70 C329.83,313.45 330.53,314.45 331.20,315.30 C331.87,316.15 332.65,316.85 333.40,317.80 C334.15,318.75 335.05,319.83 335.70,321.00 C336.35,322.17 337.25,323.53 337.30,324.80 C337.35,326.07 336.60,327.43 336.00,328.60 C335.40,329.77 333.80,330.83 333.70,331.80 C333.60,332.77 334.38,333.65 335.40,334.40 C336.42,335.15 338.90,335.72 339.80,336.30 C340.70,336.88 341.22,337.33 340.80,337.90 C340.38,338.47 338.85,339.02 337.30,339.70 C335.75,340.38 333.03,341.20 331.50,342.00 C329.97,342.80 328.67,344.08 328.10,344.50 L328.10,344.50 C327.53,344.08 326.23,342.80 324.70,342.00 C323.17,341.20 320.45,340.38 318.90,339.70 C317.35,339.02 315.82,338.47 315.40,337.90 C314.98,337.33 315.50,336.88 316.40,336.30 C317.30,335.72 319.78,335.15 320.80,334.40 C321.82,333.65 322.60,332.77 322.50,331.80 C322.40,330.83 320.80,329.77 320.20,328.60 C319.60,327.43 318.85,326.07 318.90,324.80 C318.95,323.53 319.85,322.17 320.50,321.00 C321.15,319.83 322.05,318.75 322.80,317.80 C323.55,316.85 324.33,316.15 325.00,315.30 C325.67,314.45 326.37,313.45 326.80,312.70 C327.23,311.95 327.38,311.33 327.60,310.80 C327.82,310.27 328.02,309.72 328.10,309.50Z" fill="#c8031f" stroke="#1a1a1a" stroke-width="0.55" stroke-linejoin="round"/>
<line x1="328.10" y1="302.30" x2="328.10" y2="324.80" stroke="#1a1a1a" stroke-width="0.6" />
<rect x="326.10" y="324.80" width="4.40" height="14.00" fill="#fff" stroke="#1a1a1a" stroke-width="0.55" />
<line x1="326.10" y1="328.20" x2="330.50" y2="328.20" stroke="#7a1a2a" stroke-width="1.1" />
<path d="M352.50,306.50 C352.58,306.75 352.78,307.32 353.00,308.00 C353.22,308.68 353.33,309.72 353.80,310.60 C354.27,311.48 354.92,312.30 355.80,313.30 C356.68,314.30 357.98,315.50 359.10,316.60 C360.22,317.70 361.60,318.90 362.50,319.90 C363.40,320.90 364.50,321.60 364.50,322.60 C364.50,323.60 363.40,324.80 362.50,325.90 C361.60,327.00 360.32,328.10 359.10,329.20 C357.88,330.30 356.08,331.62 355.20,332.50 C354.32,333.38 354.05,333.75 353.80,334.50 C353.55,335.25 353.67,336.22 353.70,337.00 C353.73,337.78 354.02,338.45 354.00,339.20 C353.98,339.95 353.85,340.73 353.60,341.50 C353.35,342.27 352.68,343.42 352.50,343.80 L352.50,343.80 C352.32,343.42 351.65,342.27 351.40,341.50 C351.15,340.73 351.02,339.95 351.00,339.20 C350.98,338.45 351.27,337.78 351.30,337.00 C351.33,336.22 351.45,335.25 351.20,334.50 C350.95,333.75 350.68,333.38 349.80,332.50 C348.92,331.62 347.12,330.30 345.90,329.20 C344.68,328.10 343.40,327.00 342.50,325.90 C341.60,324.80 340.50,323.60 340.50,322.60 C340.50,321.60 341.60,320.90 342.50,319.90 C343.40,318.90 344.78,317.70 345.90,316.60 C347.02,315.50 348.32,314.30 349.20,313.30 C350.08,312.30 350.73,311.48 351.20,310.60 C351.67,309.72 351.78,308.68 352.00,308.00 C352.22,307.32 352.42,306.75 352.50,306.50Z" fill="#2ea4e0" stroke="#1a1a1a" stroke-width="0.55" stroke-linejoin="round"/>
<line x1="352.50" y1="303.00" x2="352.50" y2="319.20" stroke="#1a1a1a" stroke-width="0.6" />
<line x1="352.50" y1="326.60" x2="352.50" y2="340.00" stroke="#1a1a1a" stroke-width="0.6" />
<rect x="350.60" y="319.20" width="4.00" height="7.40" fill="#fff" stroke="#1a1a1a" stroke-width="0.55" />
<line x1="350.60" y1="322.60" x2="354.60" y2="322.60" stroke="#7a1a2a" stroke-width="1.1" />
<path d="M352.5,333.5 C354.19,337.105 354.19,340.195 352.5,343.8 C350.81,340.195 350.81,337.105 352.5,333.5Z" fill="#111"/>
<text x="328.10" y="358.80" font-size="6.3" text-anchor="middle" fill="#222"  stroke="#222" stroke-width="0.1">DMSO</text>
<text x="352.50" y="358.80" font-size="6.3" text-anchor="middle" fill="#222"  stroke="#222" stroke-width="0.1">250nM</text>
<rect x="381.00" y="284.80" width="56.60" height="11.20" fill="#e0dfe4" stroke="#2a2a2a" stroke-width="0.8" />
<text x="409.30" y="292.60" font-size="5.9" text-anchor="middle" fill="#1a1a1a"  stroke="#1a1a1a" stroke-width="0.1">Plxnc1</text>
<rect x="381.00" y="296.00" width="56.60" height="51.60" fill="#fff" stroke="#2a2a2a" stroke-width="0.8" />
<line x1="378.50" y1="298.70" x2="381.00" y2="298.70" stroke="#2a2a2a" stroke-width="0.7" />
<text x="376.60" y="300.80" font-size="6.1" text-anchor="end" fill="#222"  stroke="#222" stroke-width="0.12">3</text>
<line x1="378.50" y1="312.10" x2="381.00" y2="312.10" stroke="#2a2a2a" stroke-width="0.7" />
<text x="376.60" y="314.20" font-size="6.1" text-anchor="end" fill="#222"  stroke="#222" stroke-width="0.12">2</text>
<line x1="378.50" y1="325.00" x2="381.00" y2="325.00" stroke="#2a2a2a" stroke-width="0.7" />
<text x="376.60" y="327.10" font-size="6.1" text-anchor="end" fill="#222"  stroke="#222" stroke-width="0.12">1</text>
<line x1="378.50" y1="338.40" x2="381.00" y2="338.40" stroke="#2a2a2a" stroke-width="0.7" />
<text x="376.60" y="340.50" font-size="6.1" text-anchor="end" fill="#222"  stroke="#222" stroke-width="0.12">0</text>
<line x1="396.10" y1="347.60" x2="396.10" y2="349.80" stroke="#2a2a2a" stroke-width="0.7" />
<line x1="422.40" y1="347.60" x2="422.40" y2="349.80" stroke="#2a2a2a" stroke-width="0.7" />
<line x1="396.10" y1="305.20" x2="422.40" y2="305.20" stroke="#777" stroke-width="0.8" />
<line x1="406.85" y1="301.25" x2="406.85" y2="303.15" stroke="#333" stroke-width="0.55" />
<line x1="406.03" y1="301.72" x2="407.67" y2="302.68" stroke="#333" stroke-width="0.55" />
<line x1="407.67" y1="301.72" x2="406.03" y2="302.68" stroke="#333" stroke-width="0.55" />
<line x1="408.95" y1="301.25" x2="408.95" y2="303.15" stroke="#333" stroke-width="0.55" />
<line x1="408.13" y1="301.72" x2="409.77" y2="302.68" stroke="#333" stroke-width="0.55" />
<line x1="409.77" y1="301.72" x2="408.13" y2="302.68" stroke="#333" stroke-width="0.55" />
<line x1="411.05" y1="301.25" x2="411.05" y2="303.15" stroke="#333" stroke-width="0.55" />
<line x1="410.23" y1="301.72" x2="411.87" y2="302.68" stroke="#333" stroke-width="0.55" />
<line x1="411.87" y1="301.72" x2="410.23" y2="302.68" stroke="#333" stroke-width="0.55" />
<line x1="413.15" y1="301.25" x2="413.15" y2="303.15" stroke="#333" stroke-width="0.55" />
<line x1="412.33" y1="301.72" x2="413.97" y2="302.68" stroke="#333" stroke-width="0.55" />
<line x1="413.97" y1="301.72" x2="412.33" y2="302.68" stroke="#333" stroke-width="0.55" />
<path d="M396.10,308.00 C396.18,308.15 396.43,308.12 396.60,308.90 C396.77,309.68 396.87,311.43 397.10,312.70 C397.33,313.97 397.63,315.22 398.00,316.50 C398.37,317.78 398.82,319.23 399.30,320.40 C399.78,321.57 400.52,322.55 400.90,323.50 C401.28,324.45 401.70,325.13 401.60,326.10 C401.50,327.07 400.30,328.35 400.30,329.30 C400.30,330.25 400.75,330.95 401.60,331.80 C402.45,332.65 404.13,333.55 405.40,334.40 C406.67,335.25 409.20,336.17 409.20,336.90 C409.20,337.63 406.98,338.07 405.40,338.80 C403.82,339.53 401.25,340.35 399.70,341.30 C398.15,342.25 396.70,343.97 396.10,344.50 L396.10,344.50 C395.50,343.97 394.05,342.25 392.50,341.30 C390.95,340.35 388.38,339.53 386.80,338.80 C385.22,338.07 383.00,337.63 383.00,336.90 C383.00,336.17 385.53,335.25 386.80,334.40 C388.07,333.55 389.75,332.65 390.60,331.80 C391.45,330.95 391.90,330.25 391.90,329.30 C391.90,328.35 390.70,327.07 390.60,326.10 C390.50,325.13 390.92,324.45 391.30,323.50 C391.68,322.55 392.42,321.57 392.90,320.40 C393.38,319.23 393.83,317.78 394.20,316.50 C394.57,315.22 394.87,313.97 395.10,312.70 C395.33,311.43 395.43,309.68 395.60,308.90 C395.77,308.12 396.02,308.15 396.10,308.00Z" fill="#c8031f" stroke="#1a1a1a" stroke-width="0.55" stroke-linejoin="round"/>
<line x1="396.10" y1="305.20" x2="396.10" y2="327.40" stroke="#1a1a1a" stroke-width="0.6" />
<rect x="394.10" y="327.40" width="4.40" height="10.50" fill="#fff" stroke="#1a1a1a" stroke-width="0.55" />
<path d="M422.40,304.50 C422.48,304.85 422.65,305.80 422.90,306.60 C423.15,307.40 423.37,308.42 423.90,309.30 C424.43,310.18 425.18,310.90 426.10,311.90 C427.02,312.90 428.28,314.18 429.40,315.30 C430.52,316.42 431.87,317.62 432.80,318.60 C433.73,319.58 434.57,320.32 435.00,321.20 C435.43,322.08 435.55,323.00 435.40,323.90 C435.25,324.80 434.53,325.72 434.10,326.60 C433.67,327.48 433.00,328.43 432.80,329.20 C432.60,329.97 433.02,330.53 432.90,331.20 C432.78,331.87 432.68,332.43 432.10,333.20 C431.52,333.97 430.40,334.80 429.40,335.80 C428.40,336.80 427.05,338.08 426.10,339.20 C425.15,340.32 424.32,341.52 423.70,342.50 C423.08,343.48 422.62,344.67 422.40,345.10 L422.40,345.10 C422.18,344.67 421.72,343.48 421.10,342.50 C420.48,341.52 419.65,340.32 418.70,339.20 C417.75,338.08 416.40,336.80 415.40,335.80 C414.40,334.80 413.28,333.97 412.70,333.20 C412.12,332.43 412.02,331.87 411.90,331.20 C411.78,330.53 412.20,329.97 412.00,329.20 C411.80,328.43 411.13,327.48 410.70,326.60 C410.27,325.72 409.55,324.80 409.40,323.90 C409.25,323.00 409.37,322.08 409.80,321.20 C410.23,320.32 411.07,319.58 412.00,318.60 C412.93,317.62 414.28,316.42 415.40,315.30 C416.52,314.18 417.78,312.90 418.70,311.90 C419.62,310.90 420.37,310.18 420.90,309.30 C421.43,308.42 421.65,307.40 421.90,306.60 C422.15,305.80 422.32,304.85 422.40,304.50Z" fill="#2ea4e0" stroke="#1a1a1a" stroke-width="0.55" stroke-linejoin="round"/>
<line x1="422.40" y1="301.60" x2="422.40" y2="320.60" stroke="#1a1a1a" stroke-width="0.6" />
<line x1="422.40" y1="330.50" x2="422.40" y2="343.00" stroke="#1a1a1a" stroke-width="0.6" />
<rect x="420.30" y="320.60" width="4.30" height="9.90" fill="#fff" stroke="#1a1a1a" stroke-width="0.55" />
<line x1="420.30" y1="324.60" x2="424.60" y2="324.60" stroke="#7a1a2a" stroke-width="1.1" />
<text x="396.10" y="358.80" font-size="6.3" text-anchor="middle" fill="#222"  stroke="#222" stroke-width="0.1">DMSO</text>
<text x="422.40" y="358.80" font-size="6.3" text-anchor="middle" fill="#222"  stroke="#222" stroke-width="0.1">250nM</text>
<rect x="0.50" y="0.50" width="519.00" height="368.00" fill="none" stroke="#4d4d4d" stroke-width="1" /></svg>
</body></html>
